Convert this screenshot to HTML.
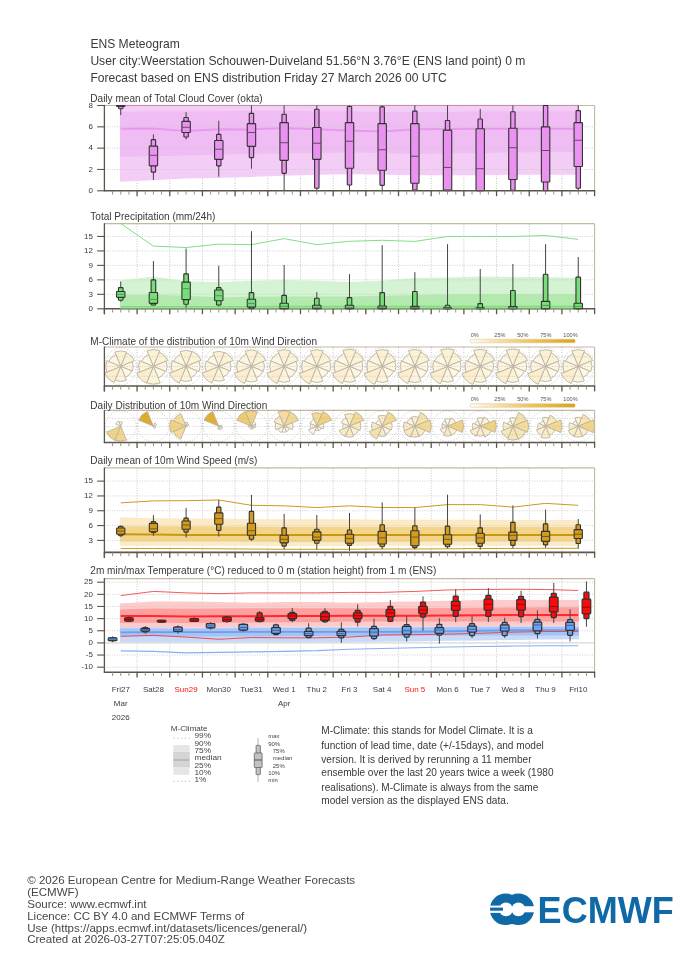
<!DOCTYPE html>
<html><head><meta charset="utf-8"><style>
html,body{margin:0;padding:0;background:#fff;}
body{width:700px;height:966px;overflow:hidden;position:relative;font-family:"Liberation Sans",sans-serif;}
svg{position:absolute;left:0;top:0;will-change:transform;}
.mc,.foot{will-change:transform;}
svg text{font-family:"Liberation Sans",sans-serif;}
.mc{position:absolute;left:321px;top:724px;width:240px;font-size:10px;line-height:14.12px;color:#3a3a3a;}
.foot{position:absolute;left:27.2px;top:875px;font-size:11.56px;line-height:11.85px;color:#474747;}
</style></head><body>
<svg width="700" height="966" viewBox="0 0 700 966">
<line x1="137.08" y1="105.50" x2="137.08" y2="190.80" stroke="#c6c6c6" stroke-width="1" stroke-dasharray="1,1.5"/>
<line x1="169.76" y1="105.50" x2="169.76" y2="190.80" stroke="#c6c6c6" stroke-width="1" stroke-dasharray="1,1.5"/>
<line x1="202.44" y1="105.50" x2="202.44" y2="190.80" stroke="#c6c6c6" stroke-width="1" stroke-dasharray="1,1.5"/>
<line x1="235.12" y1="105.50" x2="235.12" y2="190.80" stroke="#c6c6c6" stroke-width="1" stroke-dasharray="1,1.5"/>
<line x1="267.80" y1="105.50" x2="267.80" y2="190.80" stroke="#c6c6c6" stroke-width="1" stroke-dasharray="1,1.5"/>
<line x1="300.48" y1="105.50" x2="300.48" y2="190.80" stroke="#c6c6c6" stroke-width="1" stroke-dasharray="1,1.5"/>
<line x1="333.16" y1="105.50" x2="333.16" y2="190.80" stroke="#c6c6c6" stroke-width="1" stroke-dasharray="1,1.5"/>
<line x1="365.84" y1="105.50" x2="365.84" y2="190.80" stroke="#c6c6c6" stroke-width="1" stroke-dasharray="1,1.5"/>
<line x1="398.52" y1="105.50" x2="398.52" y2="190.80" stroke="#c6c6c6" stroke-width="1" stroke-dasharray="1,1.5"/>
<line x1="431.20" y1="105.50" x2="431.20" y2="190.80" stroke="#c6c6c6" stroke-width="1" stroke-dasharray="1,1.5"/>
<line x1="463.88" y1="105.50" x2="463.88" y2="190.80" stroke="#c6c6c6" stroke-width="1" stroke-dasharray="1,1.5"/>
<line x1="496.56" y1="105.50" x2="496.56" y2="190.80" stroke="#c6c6c6" stroke-width="1" stroke-dasharray="1,1.5"/>
<line x1="529.24" y1="105.50" x2="529.24" y2="190.80" stroke="#c6c6c6" stroke-width="1" stroke-dasharray="1,1.5"/>
<line x1="561.92" y1="105.50" x2="561.92" y2="190.80" stroke="#c6c6c6" stroke-width="1" stroke-dasharray="1,1.5"/>
<clipPath id="c1"><rect x="104.4" y="104.8" width="490.20" height="86.00000000000001"/></clipPath>
<g clip-path="url(#c1)">
<polygon points="119.94,99.10 153.42,99.10 186.10,99.10 218.78,99.10 251.46,99.10 284.14,99.10 316.82,99.10 349.50,99.10 382.18,99.10 414.86,99.10 447.54,99.10 480.22,99.10 512.90,99.10 545.58,99.10 578.86,99.10 578.86,174.81 545.58,174.81 512.90,174.81 480.22,175.34 447.54,175.34 414.86,175.34 382.18,174.81 349.50,174.27 316.82,174.81 284.14,175.87 251.46,176.94 218.78,178.00 186.10,178.54 153.42,180.14 119.94,181.74" fill="#f4cdf7"/>
<polygon points="119.94,111.90 153.42,111.36 186.10,111.36 218.78,111.36 251.46,110.83 284.14,110.83 316.82,111.36 349.50,111.36 382.18,111.90 414.86,111.90 447.54,111.90 480.22,111.36 512.90,111.36 545.58,111.36 578.86,111.36 578.86,151.99 545.58,152.20 512.90,152.42 480.22,152.95 447.54,153.48 414.86,153.91 382.18,152.95 349.50,152.42 316.82,152.95 284.14,153.48 251.46,153.91 218.78,154.55 186.10,155.61 153.42,156.15 119.94,156.68" fill="#efbcf4"/>
<polyline points="120.74,128.74 153.42,128.42 186.10,130.88 218.78,129.17 251.46,129.49 284.14,127.89 316.82,129.17 349.50,130.56 382.18,131.62 414.86,129.17 447.54,128.96 480.22,128.74 512.90,128.74 545.58,128.74 578.26,128.74" fill="none" stroke="#e898ee" stroke-width="2" stroke-linejoin="round"/>
</g>
<line x1="104.4" y1="169.48" x2="594.60" y2="169.48" stroke="#c6c6c6" stroke-width="1" stroke-dasharray="1,1.5" opacity="0.85"/>
<line x1="104.4" y1="148.15" x2="594.60" y2="148.15" stroke="#c6c6c6" stroke-width="1" stroke-dasharray="1,1.5" opacity="0.85"/>
<line x1="104.4" y1="126.83" x2="594.60" y2="126.83" stroke="#c6c6c6" stroke-width="1" stroke-dasharray="1,1.5" opacity="0.85"/>
<line x1="120.74" y1="105.50" x2="120.74" y2="115.10" stroke="#444" stroke-width="1"/>
<rect x="118.54" y="105.50" width="4.4" height="3.20" fill="#ea92f0" stroke="#333" stroke-width="1.1" rx="0.6"/>
<rect x="116.54" y="105.50" width="8.4" height="1.07" fill="#ea92f0" stroke="#333" stroke-width="1.1" rx="0.6"/>
<line x1="116.54" y1="105.50" x2="124.94" y2="105.50" stroke="#6e4470" stroke-width="1"/>
<line x1="153.42" y1="134.40" x2="153.42" y2="179.92" stroke="#444" stroke-width="1"/>
<rect x="151.22" y="139.62" width="4.4" height="32.52" fill="#ea92f0" stroke="#333" stroke-width="1.1" rx="0.6"/>
<rect x="149.22" y="146.12" width="8.4" height="19.73" fill="#ea92f0" stroke="#333" stroke-width="1.1" rx="0.6"/>
<line x1="149.22" y1="155.29" x2="157.62" y2="155.29" stroke="#6e4470" stroke-width="1"/>
<line x1="186.10" y1="112.11" x2="186.10" y2="139.41" stroke="#444" stroke-width="1"/>
<rect x="183.90" y="117.55" width="4.4" height="19.51" fill="#ea92f0" stroke="#333" stroke-width="1.1" rx="0.6"/>
<rect x="181.90" y="121.39" width="8.4" height="11.09" fill="#ea92f0" stroke="#333" stroke-width="1.1" rx="0.6"/>
<line x1="181.90" y1="127.25" x2="190.30" y2="127.25" stroke="#6e4470" stroke-width="1"/>
<line x1="218.78" y1="120.75" x2="218.78" y2="176.73" stroke="#444" stroke-width="1"/>
<rect x="216.58" y="134.40" width="4.4" height="31.45" fill="#ea92f0" stroke="#333" stroke-width="1.1" rx="0.6"/>
<rect x="214.58" y="140.47" width="8.4" height="18.87" fill="#ea92f0" stroke="#333" stroke-width="1.1" rx="0.6"/>
<line x1="214.58" y1="149.22" x2="222.98" y2="149.22" stroke="#6e4470" stroke-width="1"/>
<line x1="251.46" y1="105.50" x2="251.46" y2="168.73" stroke="#444" stroke-width="1"/>
<rect x="249.26" y="113.39" width="4.4" height="44.25" fill="#ea92f0" stroke="#333" stroke-width="1.1" rx="0.6"/>
<rect x="247.26" y="123.63" width="8.4" height="22.71" fill="#ea92f0" stroke="#333" stroke-width="1.1" rx="0.6"/>
<line x1="247.26" y1="132.48" x2="255.66" y2="132.48" stroke="#6e4470" stroke-width="1"/>
<line x1="284.14" y1="105.50" x2="284.14" y2="190.80" stroke="#444" stroke-width="1"/>
<rect x="281.94" y="114.24" width="4.4" height="59.18" fill="#ea92f0" stroke="#333" stroke-width="1.1" rx="0.6"/>
<rect x="279.94" y="122.67" width="8.4" height="37.75" fill="#ea92f0" stroke="#333" stroke-width="1.1" rx="0.6"/>
<line x1="279.94" y1="142.71" x2="288.34" y2="142.71" stroke="#6e4470" stroke-width="1"/>
<line x1="316.82" y1="105.50" x2="316.82" y2="190.80" stroke="#444" stroke-width="1"/>
<rect x="314.62" y="109.23" width="4.4" height="79.01" fill="#ea92f0" stroke="#333" stroke-width="1.1" rx="0.6"/>
<rect x="312.62" y="127.46" width="8.4" height="31.88" fill="#ea92f0" stroke="#333" stroke-width="1.1" rx="0.6"/>
<line x1="312.62" y1="143.25" x2="321.02" y2="143.25" stroke="#6e4470" stroke-width="1"/>
<line x1="349.50" y1="105.50" x2="349.50" y2="190.80" stroke="#444" stroke-width="1"/>
<rect x="347.30" y="106.46" width="4.4" height="78.58" fill="#ea92f0" stroke="#333" stroke-width="1.1" rx="0.6"/>
<rect x="345.30" y="122.67" width="8.4" height="45.64" fill="#ea92f0" stroke="#333" stroke-width="1.1" rx="0.6"/>
<line x1="345.30" y1="141.22" x2="353.70" y2="141.22" stroke="#6e4470" stroke-width="1"/>
<line x1="382.18" y1="105.50" x2="382.18" y2="190.80" stroke="#444" stroke-width="1"/>
<rect x="379.98" y="106.89" width="4.4" height="78.48" fill="#ea92f0" stroke="#333" stroke-width="1.1" rx="0.6"/>
<rect x="377.98" y="123.63" width="8.4" height="46.60" fill="#ea92f0" stroke="#333" stroke-width="1.1" rx="0.6"/>
<line x1="377.98" y1="149.75" x2="386.38" y2="149.75" stroke="#6e4470" stroke-width="1"/>
<line x1="414.86" y1="105.50" x2="414.86" y2="190.80" stroke="#444" stroke-width="1"/>
<rect x="412.66" y="111.15" width="4.4" height="78.80" fill="#ea92f0" stroke="#333" stroke-width="1.1" rx="0.6"/>
<rect x="410.66" y="123.63" width="8.4" height="59.60" fill="#ea92f0" stroke="#333" stroke-width="1.1" rx="0.6"/>
<line x1="410.66" y1="156.25" x2="419.06" y2="156.25" stroke="#6e4470" stroke-width="1"/>
<line x1="447.54" y1="105.50" x2="447.54" y2="190.80" stroke="#444" stroke-width="1"/>
<rect x="445.34" y="120.43" width="4.4" height="70.37" fill="#ea92f0" stroke="#333" stroke-width="1.1" rx="0.6"/>
<rect x="443.34" y="130.13" width="8.4" height="59.92" fill="#ea92f0" stroke="#333" stroke-width="1.1" rx="0.6"/>
<line x1="443.34" y1="167.45" x2="451.74" y2="167.45" stroke="#6e4470" stroke-width="1"/>
<line x1="480.22" y1="108.91" x2="480.22" y2="190.80" stroke="#444" stroke-width="1"/>
<rect x="478.02" y="118.93" width="4.4" height="71.87" fill="#ea92f0" stroke="#333" stroke-width="1.1" rx="0.6"/>
<rect x="476.02" y="128.74" width="8.4" height="62.06" fill="#ea92f0" stroke="#333" stroke-width="1.1" rx="0.6"/>
<line x1="476.02" y1="168.73" x2="484.42" y2="168.73" stroke="#6e4470" stroke-width="1"/>
<line x1="512.90" y1="105.50" x2="512.90" y2="190.80" stroke="#444" stroke-width="1"/>
<rect x="510.70" y="111.68" width="4.4" height="78.58" fill="#ea92f0" stroke="#333" stroke-width="1.1" rx="0.6"/>
<rect x="508.70" y="128.21" width="8.4" height="51.29" fill="#ea92f0" stroke="#333" stroke-width="1.1" rx="0.6"/>
<line x1="508.70" y1="147.72" x2="517.10" y2="147.72" stroke="#6e4470" stroke-width="1"/>
<line x1="545.58" y1="105.50" x2="545.58" y2="190.80" stroke="#444" stroke-width="1"/>
<rect x="543.38" y="105.50" width="4.4" height="85.30" fill="#ea92f0" stroke="#333" stroke-width="1.1" rx="0.6"/>
<rect x="541.38" y="126.83" width="8.4" height="55.23" fill="#ea92f0" stroke="#333" stroke-width="1.1" rx="0.6"/>
<line x1="541.38" y1="150.50" x2="549.78" y2="150.50" stroke="#6e4470" stroke-width="1"/>
<line x1="578.26" y1="105.50" x2="578.26" y2="190.80" stroke="#444" stroke-width="1"/>
<rect x="576.06" y="110.62" width="4.4" height="77.62" fill="#ea92f0" stroke="#333" stroke-width="1.1" rx="0.6"/>
<rect x="574.06" y="122.67" width="8.4" height="43.82" fill="#ea92f0" stroke="#333" stroke-width="1.1" rx="0.6"/>
<line x1="574.06" y1="140.26" x2="582.46" y2="140.26" stroke="#6e4470" stroke-width="1"/>
<line x1="104.4" y1="105.50" x2="594.60" y2="105.50" stroke="#c4b8a4" stroke-width="1.2" style="mix-blend-mode:multiply"/>
<line x1="594.60" y1="105.50" x2="594.60" y2="190.80" stroke="#c2b7a2" stroke-width="1.1"/>
<line x1="104.4" y1="105.50" x2="104.4" y2="190.80" stroke="#5b554a" stroke-width="1.3" stroke-linecap="round"/>
<line x1="103.80000000000001" y1="190.80" x2="595.20" y2="190.80" stroke="#5b554a" stroke-width="1.6"/>
<line x1="112.57" y1="190.80" x2="112.57" y2="194.50" stroke="#8c867b" stroke-width="0.9"/>
<line x1="120.74" y1="190.80" x2="120.74" y2="194.50" stroke="#8c867b" stroke-width="0.9"/>
<line x1="128.91" y1="190.80" x2="128.91" y2="194.50" stroke="#8c867b" stroke-width="0.9"/>
<line x1="137.08" y1="190.80" x2="137.08" y2="196.20" stroke="#5b554a" stroke-width="1.3"/>
<line x1="145.25" y1="190.80" x2="145.25" y2="194.50" stroke="#8c867b" stroke-width="0.9"/>
<line x1="153.42" y1="190.80" x2="153.42" y2="194.50" stroke="#8c867b" stroke-width="0.9"/>
<line x1="161.59" y1="190.80" x2="161.59" y2="194.50" stroke="#8c867b" stroke-width="0.9"/>
<line x1="169.76" y1="190.80" x2="169.76" y2="196.20" stroke="#5b554a" stroke-width="1.3"/>
<line x1="177.93" y1="190.80" x2="177.93" y2="194.50" stroke="#8c867b" stroke-width="0.9"/>
<line x1="186.10" y1="190.80" x2="186.10" y2="194.50" stroke="#8c867b" stroke-width="0.9"/>
<line x1="194.27" y1="190.80" x2="194.27" y2="194.50" stroke="#8c867b" stroke-width="0.9"/>
<line x1="202.44" y1="190.80" x2="202.44" y2="196.20" stroke="#5b554a" stroke-width="1.3"/>
<line x1="210.61" y1="190.80" x2="210.61" y2="194.50" stroke="#8c867b" stroke-width="0.9"/>
<line x1="218.78" y1="190.80" x2="218.78" y2="194.50" stroke="#8c867b" stroke-width="0.9"/>
<line x1="226.95" y1="190.80" x2="226.95" y2="194.50" stroke="#8c867b" stroke-width="0.9"/>
<line x1="235.12" y1="190.80" x2="235.12" y2="196.20" stroke="#5b554a" stroke-width="1.3"/>
<line x1="243.29" y1="190.80" x2="243.29" y2="194.50" stroke="#8c867b" stroke-width="0.9"/>
<line x1="251.46" y1="190.80" x2="251.46" y2="194.50" stroke="#8c867b" stroke-width="0.9"/>
<line x1="259.63" y1="190.80" x2="259.63" y2="194.50" stroke="#8c867b" stroke-width="0.9"/>
<line x1="267.80" y1="190.80" x2="267.80" y2="196.20" stroke="#5b554a" stroke-width="1.3"/>
<line x1="275.97" y1="190.80" x2="275.97" y2="194.50" stroke="#8c867b" stroke-width="0.9"/>
<line x1="284.14" y1="190.80" x2="284.14" y2="194.50" stroke="#8c867b" stroke-width="0.9"/>
<line x1="292.31" y1="190.80" x2="292.31" y2="194.50" stroke="#8c867b" stroke-width="0.9"/>
<line x1="300.48" y1="190.80" x2="300.48" y2="196.20" stroke="#5b554a" stroke-width="1.3"/>
<line x1="308.65" y1="190.80" x2="308.65" y2="194.50" stroke="#8c867b" stroke-width="0.9"/>
<line x1="316.82" y1="190.80" x2="316.82" y2="194.50" stroke="#8c867b" stroke-width="0.9"/>
<line x1="324.99" y1="190.80" x2="324.99" y2="194.50" stroke="#8c867b" stroke-width="0.9"/>
<line x1="333.16" y1="190.80" x2="333.16" y2="196.20" stroke="#5b554a" stroke-width="1.3"/>
<line x1="341.33" y1="190.80" x2="341.33" y2="194.50" stroke="#8c867b" stroke-width="0.9"/>
<line x1="349.50" y1="190.80" x2="349.50" y2="194.50" stroke="#8c867b" stroke-width="0.9"/>
<line x1="357.67" y1="190.80" x2="357.67" y2="194.50" stroke="#8c867b" stroke-width="0.9"/>
<line x1="365.84" y1="190.80" x2="365.84" y2="196.20" stroke="#5b554a" stroke-width="1.3"/>
<line x1="374.01" y1="190.80" x2="374.01" y2="194.50" stroke="#8c867b" stroke-width="0.9"/>
<line x1="382.18" y1="190.80" x2="382.18" y2="194.50" stroke="#8c867b" stroke-width="0.9"/>
<line x1="390.35" y1="190.80" x2="390.35" y2="194.50" stroke="#8c867b" stroke-width="0.9"/>
<line x1="398.52" y1="190.80" x2="398.52" y2="196.20" stroke="#5b554a" stroke-width="1.3"/>
<line x1="406.69" y1="190.80" x2="406.69" y2="194.50" stroke="#8c867b" stroke-width="0.9"/>
<line x1="414.86" y1="190.80" x2="414.86" y2="194.50" stroke="#8c867b" stroke-width="0.9"/>
<line x1="423.03" y1="190.80" x2="423.03" y2="194.50" stroke="#8c867b" stroke-width="0.9"/>
<line x1="431.20" y1="190.80" x2="431.20" y2="196.20" stroke="#5b554a" stroke-width="1.3"/>
<line x1="439.37" y1="190.80" x2="439.37" y2="194.50" stroke="#8c867b" stroke-width="0.9"/>
<line x1="447.54" y1="190.80" x2="447.54" y2="194.50" stroke="#8c867b" stroke-width="0.9"/>
<line x1="455.71" y1="190.80" x2="455.71" y2="194.50" stroke="#8c867b" stroke-width="0.9"/>
<line x1="463.88" y1="190.80" x2="463.88" y2="196.20" stroke="#5b554a" stroke-width="1.3"/>
<line x1="472.05" y1="190.80" x2="472.05" y2="194.50" stroke="#8c867b" stroke-width="0.9"/>
<line x1="480.22" y1="190.80" x2="480.22" y2="194.50" stroke="#8c867b" stroke-width="0.9"/>
<line x1="488.39" y1="190.80" x2="488.39" y2="194.50" stroke="#8c867b" stroke-width="0.9"/>
<line x1="496.56" y1="190.80" x2="496.56" y2="196.20" stroke="#5b554a" stroke-width="1.3"/>
<line x1="504.73" y1="190.80" x2="504.73" y2="194.50" stroke="#8c867b" stroke-width="0.9"/>
<line x1="512.90" y1="190.80" x2="512.90" y2="194.50" stroke="#8c867b" stroke-width="0.9"/>
<line x1="521.07" y1="190.80" x2="521.07" y2="194.50" stroke="#8c867b" stroke-width="0.9"/>
<line x1="529.24" y1="190.80" x2="529.24" y2="196.20" stroke="#5b554a" stroke-width="1.3"/>
<line x1="537.41" y1="190.80" x2="537.41" y2="194.50" stroke="#8c867b" stroke-width="0.9"/>
<line x1="545.58" y1="190.80" x2="545.58" y2="194.50" stroke="#8c867b" stroke-width="0.9"/>
<line x1="553.75" y1="190.80" x2="553.75" y2="194.50" stroke="#8c867b" stroke-width="0.9"/>
<line x1="561.92" y1="190.80" x2="561.92" y2="196.20" stroke="#5b554a" stroke-width="1.3"/>
<line x1="570.09" y1="190.80" x2="570.09" y2="194.50" stroke="#8c867b" stroke-width="0.9"/>
<line x1="578.26" y1="190.80" x2="578.26" y2="194.50" stroke="#8c867b" stroke-width="0.9"/>
<line x1="586.43" y1="190.80" x2="586.43" y2="194.50" stroke="#8c867b" stroke-width="0.9"/>
<line x1="594.60" y1="190.80" x2="594.60" y2="196.20" stroke="#5b554a" stroke-width="1.3"/>
<line x1="97.2" y1="190.80" x2="104.4" y2="190.80" stroke="#5b554a" stroke-width="1.1"/>
<text x="92.9" y="193.60" font-size="8" fill="#3a3a3a" text-anchor="end" transform="translate(0,190.80) scale(1,0.82) translate(0,-190.80)">0</text>
<line x1="97.2" y1="169.48" x2="104.4" y2="169.48" stroke="#5b554a" stroke-width="1.1"/>
<text x="92.9" y="172.28" font-size="8" fill="#3a3a3a" text-anchor="end" transform="translate(0,169.48) scale(1,0.82) translate(0,-169.48)">2</text>
<line x1="97.2" y1="148.15" x2="104.4" y2="148.15" stroke="#5b554a" stroke-width="1.1"/>
<text x="92.9" y="150.95" font-size="8" fill="#3a3a3a" text-anchor="end" transform="translate(0,148.15) scale(1,0.82) translate(0,-148.15)">4</text>
<line x1="97.2" y1="126.83" x2="104.4" y2="126.83" stroke="#5b554a" stroke-width="1.1"/>
<text x="92.9" y="129.62" font-size="8" fill="#3a3a3a" text-anchor="end" transform="translate(0,126.83) scale(1,0.82) translate(0,-126.83)">6</text>
<line x1="97.2" y1="105.50" x2="104.4" y2="105.50" stroke="#5b554a" stroke-width="1.1"/>
<text x="92.9" y="108.30" font-size="8" fill="#3a3a3a" text-anchor="end" transform="translate(0,105.50) scale(1,0.82) translate(0,-105.50)">8</text>
<text x="90.30" y="102.30" font-size="10.05" fill="#3a3a3a" text-anchor="start" >Daily mean of Total Cloud Cover (okta)</text>
<line x1="137.08" y1="223.70" x2="137.08" y2="308.80" stroke="#c6c6c6" stroke-width="1" stroke-dasharray="1,1.5"/>
<line x1="169.76" y1="223.70" x2="169.76" y2="308.80" stroke="#c6c6c6" stroke-width="1" stroke-dasharray="1,1.5"/>
<line x1="202.44" y1="223.70" x2="202.44" y2="308.80" stroke="#c6c6c6" stroke-width="1" stroke-dasharray="1,1.5"/>
<line x1="235.12" y1="223.70" x2="235.12" y2="308.80" stroke="#c6c6c6" stroke-width="1" stroke-dasharray="1,1.5"/>
<line x1="267.80" y1="223.70" x2="267.80" y2="308.80" stroke="#c6c6c6" stroke-width="1" stroke-dasharray="1,1.5"/>
<line x1="300.48" y1="223.70" x2="300.48" y2="308.80" stroke="#c6c6c6" stroke-width="1" stroke-dasharray="1,1.5"/>
<line x1="333.16" y1="223.70" x2="333.16" y2="308.80" stroke="#c6c6c6" stroke-width="1" stroke-dasharray="1,1.5"/>
<line x1="365.84" y1="223.70" x2="365.84" y2="308.80" stroke="#c6c6c6" stroke-width="1" stroke-dasharray="1,1.5"/>
<line x1="398.52" y1="223.70" x2="398.52" y2="308.80" stroke="#c6c6c6" stroke-width="1" stroke-dasharray="1,1.5"/>
<line x1="431.20" y1="223.70" x2="431.20" y2="308.80" stroke="#c6c6c6" stroke-width="1" stroke-dasharray="1,1.5"/>
<line x1="463.88" y1="223.70" x2="463.88" y2="308.80" stroke="#c6c6c6" stroke-width="1" stroke-dasharray="1,1.5"/>
<line x1="496.56" y1="223.70" x2="496.56" y2="308.80" stroke="#c6c6c6" stroke-width="1" stroke-dasharray="1,1.5"/>
<line x1="529.24" y1="223.70" x2="529.24" y2="308.80" stroke="#c6c6c6" stroke-width="1" stroke-dasharray="1,1.5"/>
<line x1="561.92" y1="223.70" x2="561.92" y2="308.80" stroke="#c6c6c6" stroke-width="1" stroke-dasharray="1,1.5"/>
<clipPath id="c2"><rect x="104.4" y="223.7" width="490.20" height="85.10000000000002"/></clipPath>
<g clip-path="url(#c2)">
<polygon points="119.94,280.59 153.42,276.49 186.10,281.31 218.78,282.27 251.46,280.83 284.14,280.01 316.82,280.83 349.50,282.03 382.18,280.83 414.86,277.93 447.54,277.45 480.22,276.49 512.90,276.97 545.58,277.11 578.86,277.93 578.86,308.80 545.58,308.80 512.90,308.80 480.22,308.80 447.54,308.80 414.86,308.80 382.18,308.80 349.50,308.80 316.82,308.80 284.14,308.80 251.46,308.80 218.78,308.80 186.10,308.80 153.42,308.80 119.94,308.80" fill="#d4f3d2"/>
<polygon points="119.94,295.30 153.42,294.81 186.10,295.78 218.78,297.22 251.46,296.74 284.14,296.40 316.82,296.40 349.50,296.40 382.18,295.78 414.86,295.30 447.54,294.33 480.22,294.33 512.90,294.33 545.58,294.33 578.86,294.33 578.86,308.80 545.58,308.80 512.90,308.80 480.22,308.80 447.54,308.80 414.86,308.80 382.18,308.80 349.50,308.80 316.82,308.80 284.14,308.80 251.46,308.80 218.78,308.80 186.10,308.80 153.42,308.80 119.94,308.80" fill="#b2eaae"/>
</g>
<line x1="104.4" y1="294.33" x2="594.60" y2="294.33" stroke="#c6c6c6" stroke-width="1" stroke-dasharray="1,1.5" opacity="0.85"/>
<line x1="104.4" y1="279.86" x2="594.60" y2="279.86" stroke="#c6c6c6" stroke-width="1" stroke-dasharray="1,1.5" opacity="0.85"/>
<line x1="104.4" y1="265.39" x2="594.60" y2="265.39" stroke="#c6c6c6" stroke-width="1" stroke-dasharray="1,1.5" opacity="0.85"/>
<line x1="104.4" y1="250.92" x2="594.60" y2="250.92" stroke="#c6c6c6" stroke-width="1" stroke-dasharray="1,1.5" opacity="0.85"/>
<line x1="104.4" y1="236.46" x2="594.60" y2="236.46" stroke="#c6c6c6" stroke-width="1" stroke-dasharray="1,1.5" opacity="0.85"/>
<g clip-path="url(#c2)">
<polyline points="120.74,306.77 153.42,306.77 186.10,306.77 218.78,306.77 251.46,306.77 284.14,306.63 316.82,306.63 349.50,306.63 382.18,306.63 414.86,306.63 447.54,306.63 480.22,306.63 512.90,306.63 545.58,306.63 578.26,306.63" fill="none" stroke="#7ede7b" stroke-width="1.6" stroke-linejoin="round"/>
<polyline points="120.74,223.53 153.42,246.10 186.10,247.55 218.78,244.17 251.46,244.65 284.14,238.63 316.82,244.65 349.50,241.28 382.18,240.31 414.86,241.42 447.54,236.46 480.22,236.46 512.90,236.46 545.58,235.49 578.26,239.35" fill="none" stroke="#86dc84" stroke-width="1.0" stroke-linejoin="round"/>
</g>
<line x1="104.4" y1="223.70" x2="594.60" y2="223.70" stroke="#c4b8a4" stroke-width="1.2" style="mix-blend-mode:multiply"/>
<line x1="594.60" y1="223.70" x2="594.60" y2="308.80" stroke="#c2b7a2" stroke-width="1.1"/>
<line x1="104.4" y1="223.70" x2="104.4" y2="313.80" stroke="#5b554a" stroke-width="1.3" stroke-linecap="round"/>
<line x1="103.80000000000001" y1="308.80" x2="595.20" y2="308.80" stroke="#5b554a" stroke-width="1.6"/>
<line x1="104.40" y1="308.80" x2="104.40" y2="314.20" stroke="#5b554a" stroke-width="1.3"/>
<line x1="112.57" y1="308.80" x2="112.57" y2="312.50" stroke="#8c867b" stroke-width="0.9"/>
<line x1="120.74" y1="308.80" x2="120.74" y2="312.50" stroke="#8c867b" stroke-width="0.9"/>
<line x1="128.91" y1="308.80" x2="128.91" y2="312.50" stroke="#8c867b" stroke-width="0.9"/>
<line x1="137.08" y1="308.80" x2="137.08" y2="314.20" stroke="#5b554a" stroke-width="1.3"/>
<line x1="145.25" y1="308.80" x2="145.25" y2="312.50" stroke="#8c867b" stroke-width="0.9"/>
<line x1="153.42" y1="308.80" x2="153.42" y2="312.50" stroke="#8c867b" stroke-width="0.9"/>
<line x1="161.59" y1="308.80" x2="161.59" y2="312.50" stroke="#8c867b" stroke-width="0.9"/>
<line x1="169.76" y1="308.80" x2="169.76" y2="314.20" stroke="#5b554a" stroke-width="1.3"/>
<line x1="177.93" y1="308.80" x2="177.93" y2="312.50" stroke="#8c867b" stroke-width="0.9"/>
<line x1="186.10" y1="308.80" x2="186.10" y2="312.50" stroke="#8c867b" stroke-width="0.9"/>
<line x1="194.27" y1="308.80" x2="194.27" y2="312.50" stroke="#8c867b" stroke-width="0.9"/>
<line x1="202.44" y1="308.80" x2="202.44" y2="314.20" stroke="#5b554a" stroke-width="1.3"/>
<line x1="210.61" y1="308.80" x2="210.61" y2="312.50" stroke="#8c867b" stroke-width="0.9"/>
<line x1="218.78" y1="308.80" x2="218.78" y2="312.50" stroke="#8c867b" stroke-width="0.9"/>
<line x1="226.95" y1="308.80" x2="226.95" y2="312.50" stroke="#8c867b" stroke-width="0.9"/>
<line x1="235.12" y1="308.80" x2="235.12" y2="314.20" stroke="#5b554a" stroke-width="1.3"/>
<line x1="243.29" y1="308.80" x2="243.29" y2="312.50" stroke="#8c867b" stroke-width="0.9"/>
<line x1="251.46" y1="308.80" x2="251.46" y2="312.50" stroke="#8c867b" stroke-width="0.9"/>
<line x1="259.63" y1="308.80" x2="259.63" y2="312.50" stroke="#8c867b" stroke-width="0.9"/>
<line x1="267.80" y1="308.80" x2="267.80" y2="314.20" stroke="#5b554a" stroke-width="1.3"/>
<line x1="275.97" y1="308.80" x2="275.97" y2="312.50" stroke="#8c867b" stroke-width="0.9"/>
<line x1="284.14" y1="308.80" x2="284.14" y2="312.50" stroke="#8c867b" stroke-width="0.9"/>
<line x1="292.31" y1="308.80" x2="292.31" y2="312.50" stroke="#8c867b" stroke-width="0.9"/>
<line x1="300.48" y1="308.80" x2="300.48" y2="314.20" stroke="#5b554a" stroke-width="1.3"/>
<line x1="308.65" y1="308.80" x2="308.65" y2="312.50" stroke="#8c867b" stroke-width="0.9"/>
<line x1="316.82" y1="308.80" x2="316.82" y2="312.50" stroke="#8c867b" stroke-width="0.9"/>
<line x1="324.99" y1="308.80" x2="324.99" y2="312.50" stroke="#8c867b" stroke-width="0.9"/>
<line x1="333.16" y1="308.80" x2="333.16" y2="314.20" stroke="#5b554a" stroke-width="1.3"/>
<line x1="341.33" y1="308.80" x2="341.33" y2="312.50" stroke="#8c867b" stroke-width="0.9"/>
<line x1="349.50" y1="308.80" x2="349.50" y2="312.50" stroke="#8c867b" stroke-width="0.9"/>
<line x1="357.67" y1="308.80" x2="357.67" y2="312.50" stroke="#8c867b" stroke-width="0.9"/>
<line x1="365.84" y1="308.80" x2="365.84" y2="314.20" stroke="#5b554a" stroke-width="1.3"/>
<line x1="374.01" y1="308.80" x2="374.01" y2="312.50" stroke="#8c867b" stroke-width="0.9"/>
<line x1="382.18" y1="308.80" x2="382.18" y2="312.50" stroke="#8c867b" stroke-width="0.9"/>
<line x1="390.35" y1="308.80" x2="390.35" y2="312.50" stroke="#8c867b" stroke-width="0.9"/>
<line x1="398.52" y1="308.80" x2="398.52" y2="314.20" stroke="#5b554a" stroke-width="1.3"/>
<line x1="406.69" y1="308.80" x2="406.69" y2="312.50" stroke="#8c867b" stroke-width="0.9"/>
<line x1="414.86" y1="308.80" x2="414.86" y2="312.50" stroke="#8c867b" stroke-width="0.9"/>
<line x1="423.03" y1="308.80" x2="423.03" y2="312.50" stroke="#8c867b" stroke-width="0.9"/>
<line x1="431.20" y1="308.80" x2="431.20" y2="314.20" stroke="#5b554a" stroke-width="1.3"/>
<line x1="439.37" y1="308.80" x2="439.37" y2="312.50" stroke="#8c867b" stroke-width="0.9"/>
<line x1="447.54" y1="308.80" x2="447.54" y2="312.50" stroke="#8c867b" stroke-width="0.9"/>
<line x1="455.71" y1="308.80" x2="455.71" y2="312.50" stroke="#8c867b" stroke-width="0.9"/>
<line x1="463.88" y1="308.80" x2="463.88" y2="314.20" stroke="#5b554a" stroke-width="1.3"/>
<line x1="472.05" y1="308.80" x2="472.05" y2="312.50" stroke="#8c867b" stroke-width="0.9"/>
<line x1="480.22" y1="308.80" x2="480.22" y2="312.50" stroke="#8c867b" stroke-width="0.9"/>
<line x1="488.39" y1="308.80" x2="488.39" y2="312.50" stroke="#8c867b" stroke-width="0.9"/>
<line x1="496.56" y1="308.80" x2="496.56" y2="314.20" stroke="#5b554a" stroke-width="1.3"/>
<line x1="504.73" y1="308.80" x2="504.73" y2="312.50" stroke="#8c867b" stroke-width="0.9"/>
<line x1="512.90" y1="308.80" x2="512.90" y2="312.50" stroke="#8c867b" stroke-width="0.9"/>
<line x1="521.07" y1="308.80" x2="521.07" y2="312.50" stroke="#8c867b" stroke-width="0.9"/>
<line x1="529.24" y1="308.80" x2="529.24" y2="314.20" stroke="#5b554a" stroke-width="1.3"/>
<line x1="537.41" y1="308.80" x2="537.41" y2="312.50" stroke="#8c867b" stroke-width="0.9"/>
<line x1="545.58" y1="308.80" x2="545.58" y2="312.50" stroke="#8c867b" stroke-width="0.9"/>
<line x1="553.75" y1="308.80" x2="553.75" y2="312.50" stroke="#8c867b" stroke-width="0.9"/>
<line x1="561.92" y1="308.80" x2="561.92" y2="314.20" stroke="#5b554a" stroke-width="1.3"/>
<line x1="570.09" y1="308.80" x2="570.09" y2="312.50" stroke="#8c867b" stroke-width="0.9"/>
<line x1="578.26" y1="308.80" x2="578.26" y2="312.50" stroke="#8c867b" stroke-width="0.9"/>
<line x1="586.43" y1="308.80" x2="586.43" y2="312.50" stroke="#8c867b" stroke-width="0.9"/>
<line x1="594.60" y1="308.80" x2="594.60" y2="314.20" stroke="#5b554a" stroke-width="1.3"/>
<line x1="97.2" y1="308.80" x2="104.4" y2="308.80" stroke="#5b554a" stroke-width="1.1"/>
<text x="92.9" y="311.60" font-size="8" fill="#3a3a3a" text-anchor="end" transform="translate(0,308.80) scale(1,0.82) translate(0,-308.80)">0</text>
<line x1="97.2" y1="294.33" x2="104.4" y2="294.33" stroke="#5b554a" stroke-width="1.1"/>
<text x="92.9" y="297.13" font-size="8" fill="#3a3a3a" text-anchor="end" transform="translate(0,294.33) scale(1,0.82) translate(0,-294.33)">3</text>
<line x1="97.2" y1="279.86" x2="104.4" y2="279.86" stroke="#5b554a" stroke-width="1.1"/>
<text x="92.9" y="282.66" font-size="8" fill="#3a3a3a" text-anchor="end" transform="translate(0,279.86) scale(1,0.82) translate(0,-279.86)">6</text>
<line x1="97.2" y1="265.39" x2="104.4" y2="265.39" stroke="#5b554a" stroke-width="1.1"/>
<text x="92.9" y="268.19" font-size="8" fill="#3a3a3a" text-anchor="end" transform="translate(0,265.39) scale(1,0.82) translate(0,-265.39)">9</text>
<line x1="97.2" y1="250.92" x2="104.4" y2="250.92" stroke="#5b554a" stroke-width="1.1"/>
<text x="92.9" y="253.72" font-size="8" fill="#3a3a3a" text-anchor="end" transform="translate(0,250.92) scale(1,0.82) translate(0,-250.92)">12</text>
<line x1="97.2" y1="236.46" x2="104.4" y2="236.46" stroke="#5b554a" stroke-width="1.1"/>
<text x="92.9" y="239.26" font-size="8" fill="#3a3a3a" text-anchor="end" transform="translate(0,236.46) scale(1,0.82) translate(0,-236.46)">15</text>
<rect x="119.94" y="307.90" width="458.92" height="0.9" fill="#8ee08a" opacity="0.75"/>
<line x1="120.74" y1="281.60" x2="120.74" y2="301.81" stroke="#444" stroke-width="1"/>
<rect x="118.44" y="287.58" width="4.6" height="12.64" fill="#77dd77" stroke="#333" stroke-width="1.1" rx="0.6"/>
<rect x="116.54" y="291.49" width="8.4" height="5.84" fill="#77dd77" stroke="#333" stroke-width="1.1" rx="0.6"/>
<line x1="116.54" y1="294.33" x2="124.94" y2="294.33" stroke="#4f9a4f" stroke-width="1"/>
<line x1="153.42" y1="261.05" x2="153.42" y2="305.62" stroke="#444" stroke-width="1"/>
<rect x="151.12" y="279.86" width="4.6" height="25.13" fill="#77dd77" stroke="#333" stroke-width="1.1" rx="0.6"/>
<rect x="149.22" y="292.50" width="8.4" height="10.90" fill="#77dd77" stroke="#333" stroke-width="1.1" rx="0.6"/>
<line x1="149.22" y1="299.40" x2="157.62" y2="299.40" stroke="#4f9a4f" stroke-width="1"/>
<line x1="186.10" y1="248.51" x2="186.10" y2="307.84" stroke="#444" stroke-width="1"/>
<rect x="183.80" y="273.88" width="4.6" height="30.38" fill="#77dd77" stroke="#333" stroke-width="1.1" rx="0.6"/>
<rect x="181.90" y="282.13" width="8.4" height="17.46" fill="#77dd77" stroke="#333" stroke-width="1.1" rx="0.6"/>
<line x1="181.90" y1="288.59" x2="190.30" y2="288.59" stroke="#4f9a4f" stroke-width="1"/>
<line x1="218.78" y1="265.68" x2="218.78" y2="306.39" stroke="#444" stroke-width="1"/>
<rect x="216.48" y="287.58" width="4.6" height="17.41" fill="#77dd77" stroke="#333" stroke-width="1.1" rx="0.6"/>
<rect x="214.58" y="289.99" width="8.4" height="10.71" fill="#77dd77" stroke="#333" stroke-width="1.1" rx="0.6"/>
<line x1="214.58" y1="295.78" x2="222.98" y2="295.78" stroke="#4f9a4f" stroke-width="1"/>
<line x1="251.46" y1="231.15" x2="251.46" y2="308.80" stroke="#444" stroke-width="1"/>
<rect x="249.16" y="292.59" width="4.6" height="16.21" fill="#77dd77" stroke="#333" stroke-width="1.1" rx="0.6"/>
<rect x="247.26" y="299.30" width="8.4" height="7.81" fill="#77dd77" stroke="#333" stroke-width="1.1" rx="0.6"/>
<line x1="247.26" y1="303.59" x2="255.66" y2="303.59" stroke="#4f9a4f" stroke-width="1"/>
<line x1="284.14" y1="265.01" x2="284.14" y2="308.80" stroke="#444" stroke-width="1"/>
<rect x="281.84" y="295.39" width="4.6" height="13.41" fill="#77dd77" stroke="#333" stroke-width="1.1" rx="0.6"/>
<rect x="279.94" y="303.30" width="8.4" height="5.50" fill="#77dd77" stroke="#333" stroke-width="1.1" rx="0.6"/>
<line x1="279.94" y1="306.39" x2="288.34" y2="306.39" stroke="#4f9a4f" stroke-width="1"/>
<line x1="316.82" y1="292.11" x2="316.82" y2="308.80" stroke="#444" stroke-width="1"/>
<rect x="314.52" y="298.29" width="4.6" height="10.51" fill="#77dd77" stroke="#333" stroke-width="1.1" rx="0.6"/>
<rect x="312.62" y="305.28" width="8.4" height="3.52" fill="#77dd77" stroke="#333" stroke-width="1.1" rx="0.6"/>
<line x1="312.62" y1="307.35" x2="321.02" y2="307.35" stroke="#4f9a4f" stroke-width="1"/>
<line x1="349.50" y1="274.07" x2="349.50" y2="308.80" stroke="#444" stroke-width="1"/>
<rect x="347.20" y="297.61" width="4.6" height="11.19" fill="#77dd77" stroke="#333" stroke-width="1.1" rx="0.6"/>
<rect x="345.30" y="305.28" width="8.4" height="3.52" fill="#77dd77" stroke="#333" stroke-width="1.1" rx="0.6"/>
<line x1="345.30" y1="307.35" x2="353.70" y2="307.35" stroke="#4f9a4f" stroke-width="1"/>
<line x1="382.18" y1="245.14" x2="382.18" y2="308.80" stroke="#444" stroke-width="1"/>
<rect x="379.88" y="292.59" width="4.6" height="16.21" fill="#77dd77" stroke="#333" stroke-width="1.1" rx="0.6"/>
<rect x="377.98" y="306.00" width="8.4" height="2.80" fill="#77dd77" stroke="#333" stroke-width="1.1" rx="0.6"/>
<line x1="377.98" y1="307.35" x2="386.38" y2="307.35" stroke="#4f9a4f" stroke-width="1"/>
<line x1="414.86" y1="272.15" x2="414.86" y2="308.80" stroke="#444" stroke-width="1"/>
<rect x="412.56" y="291.44" width="4.6" height="17.36" fill="#77dd77" stroke="#333" stroke-width="1.1" rx="0.6"/>
<rect x="410.66" y="306.39" width="8.4" height="2.41" fill="#77dd77" stroke="#333" stroke-width="1.1" rx="0.6"/>
<line x1="410.66" y1="307.35" x2="419.06" y2="307.35" stroke="#4f9a4f" stroke-width="1"/>
<line x1="447.54" y1="244.17" x2="447.54" y2="308.80" stroke="#444" stroke-width="1"/>
<rect x="445.24" y="305.28" width="4.6" height="3.52" fill="#77dd77" stroke="#333" stroke-width="1.1" rx="0.6"/>
<rect x="443.34" y="307.84" width="8.4" height="0.96" fill="#77dd77" stroke="#333" stroke-width="1.1" rx="0.6"/>
<line x1="443.34" y1="308.32" x2="451.74" y2="308.32" stroke="#4f9a4f" stroke-width="1"/>
<line x1="480.22" y1="269.01" x2="480.22" y2="308.80" stroke="#444" stroke-width="1"/>
<rect x="477.92" y="303.59" width="4.6" height="5.21" fill="#77dd77" stroke="#333" stroke-width="1.1" rx="0.6"/>
<rect x="476.02" y="307.84" width="8.4" height="0.96" fill="#77dd77" stroke="#333" stroke-width="1.1" rx="0.6"/>
<line x1="476.02" y1="308.56" x2="484.42" y2="308.56" stroke="#4f9a4f" stroke-width="1"/>
<line x1="512.90" y1="263.95" x2="512.90" y2="308.80" stroke="#444" stroke-width="1"/>
<rect x="510.60" y="290.47" width="4.6" height="18.33" fill="#77dd77" stroke="#333" stroke-width="1.1" rx="0.6"/>
<rect x="508.70" y="306.63" width="8.4" height="2.17" fill="#77dd77" stroke="#333" stroke-width="1.1" rx="0.6"/>
<line x1="508.70" y1="308.32" x2="517.10" y2="308.32" stroke="#4f9a4f" stroke-width="1"/>
<line x1="545.58" y1="244.17" x2="545.58" y2="308.80" stroke="#444" stroke-width="1"/>
<rect x="543.28" y="274.32" width="4.6" height="34.48" fill="#77dd77" stroke="#333" stroke-width="1.1" rx="0.6"/>
<rect x="541.38" y="301.42" width="8.4" height="7.38" fill="#77dd77" stroke="#333" stroke-width="1.1" rx="0.6"/>
<line x1="541.38" y1="305.42" x2="549.78" y2="305.42" stroke="#4f9a4f" stroke-width="1"/>
<line x1="578.26" y1="256.95" x2="578.26" y2="308.80" stroke="#444" stroke-width="1"/>
<rect x="575.96" y="277.11" width="4.6" height="31.69" fill="#77dd77" stroke="#333" stroke-width="1.1" rx="0.6"/>
<rect x="574.06" y="303.30" width="8.4" height="5.50" fill="#77dd77" stroke="#333" stroke-width="1.1" rx="0.6"/>
<line x1="574.06" y1="306.39" x2="582.46" y2="306.39" stroke="#4f9a4f" stroke-width="1"/>
<text x="90.30" y="219.70" font-size="10.05" fill="#3a3a3a" text-anchor="start" >Total Precipitation (mm/24h)</text>
<line x1="137.08" y1="347.00" x2="137.08" y2="386.00" stroke="#c6c6c6" stroke-width="1" stroke-dasharray="1,1.5"/>
<line x1="169.76" y1="347.00" x2="169.76" y2="386.00" stroke="#c6c6c6" stroke-width="1" stroke-dasharray="1,1.5"/>
<line x1="202.44" y1="347.00" x2="202.44" y2="386.00" stroke="#c6c6c6" stroke-width="1" stroke-dasharray="1,1.5"/>
<line x1="235.12" y1="347.00" x2="235.12" y2="386.00" stroke="#c6c6c6" stroke-width="1" stroke-dasharray="1,1.5"/>
<line x1="267.80" y1="347.00" x2="267.80" y2="386.00" stroke="#c6c6c6" stroke-width="1" stroke-dasharray="1,1.5"/>
<line x1="300.48" y1="347.00" x2="300.48" y2="386.00" stroke="#c6c6c6" stroke-width="1" stroke-dasharray="1,1.5"/>
<line x1="333.16" y1="347.00" x2="333.16" y2="386.00" stroke="#c6c6c6" stroke-width="1" stroke-dasharray="1,1.5"/>
<line x1="365.84" y1="347.00" x2="365.84" y2="386.00" stroke="#c6c6c6" stroke-width="1" stroke-dasharray="1,1.5"/>
<line x1="398.52" y1="347.00" x2="398.52" y2="386.00" stroke="#c6c6c6" stroke-width="1" stroke-dasharray="1,1.5"/>
<line x1="431.20" y1="347.00" x2="431.20" y2="386.00" stroke="#c6c6c6" stroke-width="1" stroke-dasharray="1,1.5"/>
<line x1="463.88" y1="347.00" x2="463.88" y2="386.00" stroke="#c6c6c6" stroke-width="1" stroke-dasharray="1,1.5"/>
<line x1="496.56" y1="347.00" x2="496.56" y2="386.00" stroke="#c6c6c6" stroke-width="1" stroke-dasharray="1,1.5"/>
<line x1="529.24" y1="347.00" x2="529.24" y2="386.00" stroke="#c6c6c6" stroke-width="1" stroke-dasharray="1,1.5"/>
<line x1="561.92" y1="347.00" x2="561.92" y2="386.00" stroke="#c6c6c6" stroke-width="1" stroke-dasharray="1,1.5"/>
<ellipse cx="120.74" cy="366.40" rx="15.5" ry="18.70" fill="none" stroke="#b8b8b8" stroke-width="0.8" stroke-dasharray="1,1.8"/>
<ellipse cx="153.42" cy="366.40" rx="15.5" ry="18.70" fill="none" stroke="#b8b8b8" stroke-width="0.8" stroke-dasharray="1,1.8"/>
<ellipse cx="186.10" cy="366.40" rx="15.5" ry="18.70" fill="none" stroke="#b8b8b8" stroke-width="0.8" stroke-dasharray="1,1.8"/>
<ellipse cx="218.78" cy="366.40" rx="15.5" ry="18.70" fill="none" stroke="#b8b8b8" stroke-width="0.8" stroke-dasharray="1,1.8"/>
<ellipse cx="251.46" cy="366.40" rx="15.5" ry="18.70" fill="none" stroke="#b8b8b8" stroke-width="0.8" stroke-dasharray="1,1.8"/>
<ellipse cx="284.14" cy="366.40" rx="15.5" ry="18.70" fill="none" stroke="#b8b8b8" stroke-width="0.8" stroke-dasharray="1,1.8"/>
<ellipse cx="316.82" cy="366.40" rx="15.5" ry="18.70" fill="none" stroke="#b8b8b8" stroke-width="0.8" stroke-dasharray="1,1.8"/>
<ellipse cx="349.50" cy="366.40" rx="15.5" ry="18.70" fill="none" stroke="#b8b8b8" stroke-width="0.8" stroke-dasharray="1,1.8"/>
<ellipse cx="382.18" cy="366.40" rx="15.5" ry="18.70" fill="none" stroke="#b8b8b8" stroke-width="0.8" stroke-dasharray="1,1.8"/>
<ellipse cx="414.86" cy="366.40" rx="15.5" ry="18.70" fill="none" stroke="#b8b8b8" stroke-width="0.8" stroke-dasharray="1,1.8"/>
<ellipse cx="447.54" cy="366.40" rx="15.5" ry="18.70" fill="none" stroke="#b8b8b8" stroke-width="0.8" stroke-dasharray="1,1.8"/>
<ellipse cx="480.22" cy="366.40" rx="15.5" ry="18.70" fill="none" stroke="#b8b8b8" stroke-width="0.8" stroke-dasharray="1,1.8"/>
<ellipse cx="512.90" cy="366.40" rx="15.5" ry="18.70" fill="none" stroke="#b8b8b8" stroke-width="0.8" stroke-dasharray="1,1.8"/>
<ellipse cx="545.58" cy="366.40" rx="15.5" ry="18.70" fill="none" stroke="#b8b8b8" stroke-width="0.8" stroke-dasharray="1,1.8"/>
<ellipse cx="578.26" cy="366.40" rx="15.5" ry="18.70" fill="none" stroke="#b8b8b8" stroke-width="0.8" stroke-dasharray="1,1.8"/>
<clipPath id="c3"><rect x="104.4" y="347.0" width="490.20" height="39.0"/></clipPath>
<g clip-path="url(#c3)">
<path d="M120.74,366.40 L114.81,352.08 A15.50,15.50 0 0 1 126.67,352.08 Z" fill="#fbf1d4" stroke="#bbb3a2" stroke-width="0.9" stroke-linejoin="round"/>
<path d="M120.74,366.40 L126.40,352.73 A14.80,14.80 0 0 1 134.41,360.74 Z" fill="#fbf2d7" stroke="#bbb3a2" stroke-width="0.9" stroke-linejoin="round"/>
<path d="M120.74,366.40 L132.29,361.62 A12.50,12.50 0 0 1 132.29,371.18 Z" fill="#fcf6e3" stroke="#bbb3a2" stroke-width="0.9" stroke-linejoin="round"/>
<path d="M120.74,366.40 L131.83,370.99 A12.00,12.00 0 0 1 125.33,377.49 Z" fill="#fdf7e6" stroke="#bbb3a2" stroke-width="0.9" stroke-linejoin="round"/>
<path d="M120.74,366.40 L126.48,380.26 A15.00,15.00 0 0 1 115.00,380.26 Z" fill="#fbf3da" stroke="#bbb3a2" stroke-width="0.9" stroke-linejoin="round"/>
<path d="M120.74,366.40 L114.04,382.57 A17.50,17.50 0 0 1 104.57,373.10 Z" fill="#faeece" stroke="#bbb3a2" stroke-width="0.9" stroke-linejoin="round"/>
<path d="M120.74,366.40 L106.88,372.14 A15.00,15.00 0 0 1 106.88,360.66 Z" fill="#fcf4dd" stroke="#bbb3a2" stroke-width="0.9" stroke-linejoin="round"/>
<path d="M120.74,366.40 L108.73,361.43 A13.00,13.00 0 0 1 115.77,354.39 Z" fill="#fcf6e3" stroke="#bbb3a2" stroke-width="0.9" stroke-linejoin="round"/>
<path d="M153.42,366.40 L146.99,350.88 A16.80,16.80 0 0 1 159.85,350.88 Z" fill="#fbf1d4" stroke="#bbb3a2" stroke-width="0.9" stroke-linejoin="round"/>
<path d="M153.42,366.40 L159.35,352.08 A15.50,15.50 0 0 1 167.74,360.47 Z" fill="#fbf2d7" stroke="#bbb3a2" stroke-width="0.9" stroke-linejoin="round"/>
<path d="M153.42,366.40 L166.17,361.12 A13.80,13.80 0 0 1 166.17,371.68 Z" fill="#fcf6e3" stroke="#bbb3a2" stroke-width="0.9" stroke-linejoin="round"/>
<path d="M153.42,366.40 L165.25,371.30 A12.80,12.80 0 0 1 158.32,378.23 Z" fill="#fdf7e6" stroke="#bbb3a2" stroke-width="0.9" stroke-linejoin="round"/>
<path d="M153.42,366.40 L160.23,382.85 A17.80,17.80 0 0 1 146.61,382.85 Z" fill="#fbf3da" stroke="#bbb3a2" stroke-width="0.9" stroke-linejoin="round"/>
<path d="M153.42,366.40 L146.53,383.03 A18.00,18.00 0 0 1 136.79,373.29 Z" fill="#faeece" stroke="#bbb3a2" stroke-width="0.9" stroke-linejoin="round"/>
<path d="M153.42,366.40 L139.75,372.06 A14.80,14.80 0 0 1 139.75,360.74 Z" fill="#fcf4dd" stroke="#bbb3a2" stroke-width="0.9" stroke-linejoin="round"/>
<path d="M153.42,366.40 L141.41,361.43 A13.00,13.00 0 0 1 148.45,354.39 Z" fill="#fcf6e3" stroke="#bbb3a2" stroke-width="0.9" stroke-linejoin="round"/>
<path d="M186.10,366.40 L179.98,351.62 A16.00,16.00 0 0 1 192.22,351.62 Z" fill="#fbf1d4" stroke="#bbb3a2" stroke-width="0.9" stroke-linejoin="round"/>
<path d="M186.10,366.40 L192.34,351.34 A16.30,16.30 0 0 1 201.16,360.16 Z" fill="#fbf2d7" stroke="#bbb3a2" stroke-width="0.9" stroke-linejoin="round"/>
<path d="M186.10,366.40 L199.03,361.04 A14.00,14.00 0 0 1 199.03,371.76 Z" fill="#fcf6e3" stroke="#bbb3a2" stroke-width="0.9" stroke-linejoin="round"/>
<path d="M186.10,366.40 L197.46,371.11 A12.30,12.30 0 0 1 190.81,377.76 Z" fill="#fdf7e6" stroke="#bbb3a2" stroke-width="0.9" stroke-linejoin="round"/>
<path d="M186.10,366.40 L191.84,380.26 A15.00,15.00 0 0 1 180.36,380.26 Z" fill="#fbf3da" stroke="#bbb3a2" stroke-width="0.9" stroke-linejoin="round"/>
<path d="M186.10,366.40 L179.21,383.03 A18.00,18.00 0 0 1 169.47,373.29 Z" fill="#faeece" stroke="#bbb3a2" stroke-width="0.9" stroke-linejoin="round"/>
<path d="M186.10,366.40 L172.43,372.06 A14.80,14.80 0 0 1 172.43,360.74 Z" fill="#fcf4dd" stroke="#bbb3a2" stroke-width="0.9" stroke-linejoin="round"/>
<path d="M186.10,366.40 L173.63,361.23 A13.50,13.50 0 0 1 180.93,353.93 Z" fill="#fcf6e3" stroke="#bbb3a2" stroke-width="0.9" stroke-linejoin="round"/>
<path d="M218.78,366.40 L213.04,352.54 A15.00,15.00 0 0 1 224.52,352.54 Z" fill="#fbf1d4" stroke="#bbb3a2" stroke-width="0.9" stroke-linejoin="round"/>
<path d="M218.78,366.40 L224.64,352.26 A15.30,15.30 0 0 1 232.92,360.54 Z" fill="#fbf2d7" stroke="#bbb3a2" stroke-width="0.9" stroke-linejoin="round"/>
<path d="M218.78,366.40 L230.05,361.73 A12.20,12.20 0 0 1 230.05,371.07 Z" fill="#fcf6e3" stroke="#bbb3a2" stroke-width="0.9" stroke-linejoin="round"/>
<path d="M218.78,366.40 L229.40,370.80 A11.50,11.50 0 0 1 223.18,377.02 Z" fill="#fdf7e6" stroke="#bbb3a2" stroke-width="0.9" stroke-linejoin="round"/>
<path d="M218.78,366.40 L224.44,380.07 A14.80,14.80 0 0 1 213.12,380.07 Z" fill="#fbf3da" stroke="#bbb3a2" stroke-width="0.9" stroke-linejoin="round"/>
<path d="M218.78,366.40 L211.89,383.03 A18.00,18.00 0 0 1 202.15,373.29 Z" fill="#faeece" stroke="#bbb3a2" stroke-width="0.9" stroke-linejoin="round"/>
<path d="M218.78,366.40 L206.03,371.68 A13.80,13.80 0 0 1 206.03,361.12 Z" fill="#fcf4dd" stroke="#bbb3a2" stroke-width="0.9" stroke-linejoin="round"/>
<path d="M218.78,366.40 L207.23,361.62 A12.50,12.50 0 0 1 214.00,354.85 Z" fill="#fcf6e3" stroke="#bbb3a2" stroke-width="0.9" stroke-linejoin="round"/>
<path d="M251.46,366.40 L245.15,351.16 A16.50,16.50 0 0 1 257.77,351.16 Z" fill="#fbf1d4" stroke="#bbb3a2" stroke-width="0.9" stroke-linejoin="round"/>
<path d="M251.46,366.40 L257.39,352.08 A15.50,15.50 0 0 1 265.78,360.47 Z" fill="#fbf2d7" stroke="#bbb3a2" stroke-width="0.9" stroke-linejoin="round"/>
<path d="M251.46,366.40 L263.47,361.43 A13.00,13.00 0 0 1 263.47,371.37 Z" fill="#fcf6e3" stroke="#bbb3a2" stroke-width="0.9" stroke-linejoin="round"/>
<path d="M251.46,366.40 L263.01,371.18 A12.50,12.50 0 0 1 256.24,377.95 Z" fill="#fdf7e6" stroke="#bbb3a2" stroke-width="0.9" stroke-linejoin="round"/>
<path d="M251.46,366.40 L257.43,380.81 A15.60,15.60 0 0 1 245.49,380.81 Z" fill="#fbf3da" stroke="#bbb3a2" stroke-width="0.9" stroke-linejoin="round"/>
<path d="M251.46,366.40 L244.38,383.49 A18.50,18.50 0 0 1 234.37,373.48 Z" fill="#faeece" stroke="#bbb3a2" stroke-width="0.9" stroke-linejoin="round"/>
<path d="M251.46,366.40 L237.79,372.06 A14.80,14.80 0 0 1 237.79,360.74 Z" fill="#fcf4dd" stroke="#bbb3a2" stroke-width="0.9" stroke-linejoin="round"/>
<path d="M251.46,366.40 L238.99,361.23 A13.50,13.50 0 0 1 246.29,353.93 Z" fill="#fcf6e3" stroke="#bbb3a2" stroke-width="0.9" stroke-linejoin="round"/>
<path d="M284.14,366.40 L277.75,350.97 A16.70,16.70 0 0 1 290.53,350.97 Z" fill="#fbf1d4" stroke="#bbb3a2" stroke-width="0.9" stroke-linejoin="round"/>
<path d="M284.14,366.40 L290.00,352.26 A15.30,15.30 0 0 1 298.28,360.54 Z" fill="#fbf2d7" stroke="#bbb3a2" stroke-width="0.9" stroke-linejoin="round"/>
<path d="M284.14,366.40 L296.24,361.39 A13.10,13.10 0 0 1 296.24,371.41 Z" fill="#fcf6e3" stroke="#bbb3a2" stroke-width="0.9" stroke-linejoin="round"/>
<path d="M284.14,366.40 L295.78,371.22 A12.60,12.60 0 0 1 288.96,378.04 Z" fill="#fdf7e6" stroke="#bbb3a2" stroke-width="0.9" stroke-linejoin="round"/>
<path d="M284.14,366.40 L290.22,381.09 A15.90,15.90 0 0 1 278.06,381.09 Z" fill="#fbf3da" stroke="#bbb3a2" stroke-width="0.9" stroke-linejoin="round"/>
<path d="M284.14,366.40 L277.06,383.49 A18.50,18.50 0 0 1 267.05,373.48 Z" fill="#faeece" stroke="#bbb3a2" stroke-width="0.9" stroke-linejoin="round"/>
<path d="M284.14,366.40 L270.84,371.91 A14.40,14.40 0 0 1 270.84,360.89 Z" fill="#fcf4dd" stroke="#bbb3a2" stroke-width="0.9" stroke-linejoin="round"/>
<path d="M284.14,366.40 L270.84,360.89 A14.40,14.40 0 0 1 278.63,353.10 Z" fill="#fcf6e3" stroke="#bbb3a2" stroke-width="0.9" stroke-linejoin="round"/>
<path d="M316.82,366.40 L310.43,350.97 A16.70,16.70 0 0 1 323.21,350.97 Z" fill="#fbf1d4" stroke="#bbb3a2" stroke-width="0.9" stroke-linejoin="round"/>
<path d="M316.82,366.40 L322.52,352.63 A14.90,14.90 0 0 1 330.59,360.70 Z" fill="#fbf2d7" stroke="#bbb3a2" stroke-width="0.9" stroke-linejoin="round"/>
<path d="M316.82,366.40 L329.66,361.08 A13.90,13.90 0 0 1 329.66,371.72 Z" fill="#fcf6e3" stroke="#bbb3a2" stroke-width="0.9" stroke-linejoin="round"/>
<path d="M316.82,366.40 L328.37,371.18 A12.50,12.50 0 0 1 321.60,377.95 Z" fill="#fdf7e6" stroke="#bbb3a2" stroke-width="0.9" stroke-linejoin="round"/>
<path d="M316.82,366.40 L322.98,381.27 A16.10,16.10 0 0 1 310.66,381.27 Z" fill="#fbf3da" stroke="#bbb3a2" stroke-width="0.9" stroke-linejoin="round"/>
<path d="M316.82,366.40 L309.55,383.95 A19.00,19.00 0 0 1 299.27,373.67 Z" fill="#faeece" stroke="#bbb3a2" stroke-width="0.9" stroke-linejoin="round"/>
<path d="M316.82,366.40 L302.78,372.22 A15.20,15.20 0 0 1 302.78,360.58 Z" fill="#fcf4dd" stroke="#bbb3a2" stroke-width="0.9" stroke-linejoin="round"/>
<path d="M316.82,366.40 L304.26,361.20 A13.60,13.60 0 0 1 311.62,353.84 Z" fill="#fcf6e3" stroke="#bbb3a2" stroke-width="0.9" stroke-linejoin="round"/>
<path d="M349.50,366.40 L342.92,350.51 A17.20,17.20 0 0 1 356.08,350.51 Z" fill="#fbf1d4" stroke="#bbb3a2" stroke-width="0.9" stroke-linejoin="round"/>
<path d="M349.50,366.40 L355.47,351.99 A15.60,15.60 0 0 1 363.91,360.43 Z" fill="#fbf2d7" stroke="#bbb3a2" stroke-width="0.9" stroke-linejoin="round"/>
<path d="M349.50,366.40 L361.79,361.31 A13.30,13.30 0 0 1 361.79,371.49 Z" fill="#fcf6e3" stroke="#bbb3a2" stroke-width="0.9" stroke-linejoin="round"/>
<path d="M349.50,366.40 L361.33,371.30 A12.80,12.80 0 0 1 354.40,378.23 Z" fill="#fdf7e6" stroke="#bbb3a2" stroke-width="0.9" stroke-linejoin="round"/>
<path d="M349.50,366.40 L355.58,381.09 A15.90,15.90 0 0 1 343.42,381.09 Z" fill="#fbf3da" stroke="#bbb3a2" stroke-width="0.9" stroke-linejoin="round"/>
<path d="M349.50,366.40 L342.42,383.49 A18.50,18.50 0 0 1 332.41,373.48 Z" fill="#faeece" stroke="#bbb3a2" stroke-width="0.9" stroke-linejoin="round"/>
<path d="M349.50,366.40 L335.36,372.26 A15.30,15.30 0 0 1 335.36,360.54 Z" fill="#fcf4dd" stroke="#bbb3a2" stroke-width="0.9" stroke-linejoin="round"/>
<path d="M349.50,366.40 L336.47,361.00 A14.10,14.10 0 0 1 344.10,353.37 Z" fill="#fcf6e3" stroke="#bbb3a2" stroke-width="0.9" stroke-linejoin="round"/>
<path d="M382.18,366.40 L375.75,350.88 A16.80,16.80 0 0 1 388.61,350.88 Z" fill="#fbf1d4" stroke="#bbb3a2" stroke-width="0.9" stroke-linejoin="round"/>
<path d="M382.18,366.40 L387.77,352.91 A14.60,14.60 0 0 1 395.67,360.81 Z" fill="#fbf2d7" stroke="#bbb3a2" stroke-width="0.9" stroke-linejoin="round"/>
<path d="M382.18,366.40 L394.84,361.16 A13.70,13.70 0 0 1 394.84,371.64 Z" fill="#fcf6e3" stroke="#bbb3a2" stroke-width="0.9" stroke-linejoin="round"/>
<path d="M382.18,366.40 L393.73,371.18 A12.50,12.50 0 0 1 386.96,377.95 Z" fill="#fdf7e6" stroke="#bbb3a2" stroke-width="0.9" stroke-linejoin="round"/>
<path d="M382.18,366.40 L388.30,381.18 A16.00,16.00 0 0 1 376.06,381.18 Z" fill="#fbf3da" stroke="#bbb3a2" stroke-width="0.9" stroke-linejoin="round"/>
<path d="M382.18,366.40 L374.72,384.42 A19.50,19.50 0 0 1 364.16,373.86 Z" fill="#faeece" stroke="#bbb3a2" stroke-width="0.9" stroke-linejoin="round"/>
<path d="M382.18,366.40 L368.04,372.26 A15.30,15.30 0 0 1 368.04,360.54 Z" fill="#fcf4dd" stroke="#bbb3a2" stroke-width="0.9" stroke-linejoin="round"/>
<path d="M382.18,366.40 L368.78,360.85 A14.50,14.50 0 0 1 376.63,353.00 Z" fill="#fcf6e3" stroke="#bbb3a2" stroke-width="0.9" stroke-linejoin="round"/>
<path d="M414.86,366.40 L408.39,350.79 A16.90,16.90 0 0 1 421.33,350.79 Z" fill="#fbf1d4" stroke="#bbb3a2" stroke-width="0.9" stroke-linejoin="round"/>
<path d="M414.86,366.40 L420.83,351.99 A15.60,15.60 0 0 1 429.27,360.43 Z" fill="#fbf2d7" stroke="#bbb3a2" stroke-width="0.9" stroke-linejoin="round"/>
<path d="M414.86,366.40 L427.06,361.35 A13.20,13.20 0 0 1 427.06,371.45 Z" fill="#fcf6e3" stroke="#bbb3a2" stroke-width="0.9" stroke-linejoin="round"/>
<path d="M414.86,366.40 L426.87,371.37 A13.00,13.00 0 0 1 419.83,378.41 Z" fill="#fdf7e6" stroke="#bbb3a2" stroke-width="0.9" stroke-linejoin="round"/>
<path d="M414.86,366.40 L421.06,381.37 A16.20,16.20 0 0 1 408.66,381.37 Z" fill="#fbf3da" stroke="#bbb3a2" stroke-width="0.9" stroke-linejoin="round"/>
<path d="M414.86,366.40 L407.78,383.49 A18.50,18.50 0 0 1 397.77,373.48 Z" fill="#faeece" stroke="#bbb3a2" stroke-width="0.9" stroke-linejoin="round"/>
<path d="M414.86,366.40 L401.37,371.99 A14.60,14.60 0 0 1 401.37,360.81 Z" fill="#fcf4dd" stroke="#bbb3a2" stroke-width="0.9" stroke-linejoin="round"/>
<path d="M414.86,366.40 L402.20,361.16 A13.70,13.70 0 0 1 409.62,353.74 Z" fill="#fcf6e3" stroke="#bbb3a2" stroke-width="0.9" stroke-linejoin="round"/>
<path d="M447.54,366.40 L440.80,350.14 A17.60,17.60 0 0 1 454.28,350.14 Z" fill="#fbf1d4" stroke="#bbb3a2" stroke-width="0.9" stroke-linejoin="round"/>
<path d="M447.54,366.40 L453.32,352.45 A15.10,15.10 0 0 1 461.49,360.62 Z" fill="#fbf2d7" stroke="#bbb3a2" stroke-width="0.9" stroke-linejoin="round"/>
<path d="M447.54,366.40 L460.01,361.23 A13.50,13.50 0 0 1 460.01,371.57 Z" fill="#fcf6e3" stroke="#bbb3a2" stroke-width="0.9" stroke-linejoin="round"/>
<path d="M447.54,366.40 L458.90,371.11 A12.30,12.30 0 0 1 452.25,377.76 Z" fill="#fdf7e6" stroke="#bbb3a2" stroke-width="0.9" stroke-linejoin="round"/>
<path d="M447.54,366.40 L453.55,380.90 A15.70,15.70 0 0 1 441.53,380.90 Z" fill="#fbf3da" stroke="#bbb3a2" stroke-width="0.9" stroke-linejoin="round"/>
<path d="M447.54,366.40 L440.31,383.86 A18.90,18.90 0 0 1 430.08,373.63 Z" fill="#faeece" stroke="#bbb3a2" stroke-width="0.9" stroke-linejoin="round"/>
<path d="M447.54,366.40 L433.87,372.06 A14.80,14.80 0 0 1 433.87,360.74 Z" fill="#fcf4dd" stroke="#bbb3a2" stroke-width="0.9" stroke-linejoin="round"/>
<path d="M447.54,366.40 L434.51,361.00 A14.10,14.10 0 0 1 442.14,353.37 Z" fill="#fcf6e3" stroke="#bbb3a2" stroke-width="0.9" stroke-linejoin="round"/>
<path d="M480.22,366.40 L473.68,350.60 A17.10,17.10 0 0 1 486.76,350.60 Z" fill="#fbf1d4" stroke="#bbb3a2" stroke-width="0.9" stroke-linejoin="round"/>
<path d="M480.22,366.40 L486.23,351.90 A15.70,15.70 0 0 1 494.72,360.39 Z" fill="#fbf2d7" stroke="#bbb3a2" stroke-width="0.9" stroke-linejoin="round"/>
<path d="M480.22,366.40 L492.69,361.23 A13.50,13.50 0 0 1 492.69,371.57 Z" fill="#fcf6e3" stroke="#bbb3a2" stroke-width="0.9" stroke-linejoin="round"/>
<path d="M480.22,366.40 L492.23,371.37 A13.00,13.00 0 0 1 485.19,378.41 Z" fill="#fdf7e6" stroke="#bbb3a2" stroke-width="0.9" stroke-linejoin="round"/>
<path d="M480.22,366.40 L486.38,381.27 A16.10,16.10 0 0 1 474.06,381.27 Z" fill="#fbf3da" stroke="#bbb3a2" stroke-width="0.9" stroke-linejoin="round"/>
<path d="M480.22,366.40 L472.72,384.51 A19.60,19.60 0 0 1 462.11,373.90 Z" fill="#faeece" stroke="#bbb3a2" stroke-width="0.9" stroke-linejoin="round"/>
<path d="M480.22,366.40 L466.18,372.22 A15.20,15.20 0 0 1 466.18,360.58 Z" fill="#fcf4dd" stroke="#bbb3a2" stroke-width="0.9" stroke-linejoin="round"/>
<path d="M480.22,366.40 L467.66,361.20 A13.60,13.60 0 0 1 475.02,353.84 Z" fill="#fcf6e3" stroke="#bbb3a2" stroke-width="0.9" stroke-linejoin="round"/>
<path d="M512.90,366.40 L506.24,350.32 A17.40,17.40 0 0 1 519.56,350.32 Z" fill="#fbf1d4" stroke="#bbb3a2" stroke-width="0.9" stroke-linejoin="round"/>
<path d="M512.90,366.40 L518.95,351.80 A15.80,15.80 0 0 1 527.50,360.35 Z" fill="#fbf2d7" stroke="#bbb3a2" stroke-width="0.9" stroke-linejoin="round"/>
<path d="M512.90,366.40 L525.65,361.12 A13.80,13.80 0 0 1 525.65,371.68 Z" fill="#fcf6e3" stroke="#bbb3a2" stroke-width="0.9" stroke-linejoin="round"/>
<path d="M512.90,366.40 L524.54,371.22 A12.60,12.60 0 0 1 517.72,378.04 Z" fill="#fdf7e6" stroke="#bbb3a2" stroke-width="0.9" stroke-linejoin="round"/>
<path d="M512.90,366.40 L519.02,381.18 A16.00,16.00 0 0 1 506.78,381.18 Z" fill="#fbf3da" stroke="#bbb3a2" stroke-width="0.9" stroke-linejoin="round"/>
<path d="M512.90,366.40 L505.74,383.68 A18.70,18.70 0 0 1 495.62,373.56 Z" fill="#faeece" stroke="#bbb3a2" stroke-width="0.9" stroke-linejoin="round"/>
<path d="M512.90,366.40 L498.67,372.29 A15.40,15.40 0 0 1 498.67,360.51 Z" fill="#fcf4dd" stroke="#bbb3a2" stroke-width="0.9" stroke-linejoin="round"/>
<path d="M512.90,366.40 L499.87,361.00 A14.10,14.10 0 0 1 507.50,353.37 Z" fill="#fcf6e3" stroke="#bbb3a2" stroke-width="0.9" stroke-linejoin="round"/>
<path d="M545.58,366.40 L539.19,350.97 A16.70,16.70 0 0 1 551.97,350.97 Z" fill="#fbf1d4" stroke="#bbb3a2" stroke-width="0.9" stroke-linejoin="round"/>
<path d="M545.58,366.40 L551.21,352.82 A14.70,14.70 0 0 1 559.16,360.77 Z" fill="#fbf2d7" stroke="#bbb3a2" stroke-width="0.9" stroke-linejoin="round"/>
<path d="M545.58,366.40 L558.24,361.16 A13.70,13.70 0 0 1 558.24,371.64 Z" fill="#fcf6e3" stroke="#bbb3a2" stroke-width="0.9" stroke-linejoin="round"/>
<path d="M545.58,366.40 L557.68,371.41 A13.10,13.10 0 0 1 550.59,378.50 Z" fill="#fdf7e6" stroke="#bbb3a2" stroke-width="0.9" stroke-linejoin="round"/>
<path d="M545.58,366.40 L551.40,380.44 A15.20,15.20 0 0 1 539.76,380.44 Z" fill="#fbf3da" stroke="#bbb3a2" stroke-width="0.9" stroke-linejoin="round"/>
<path d="M545.58,366.40 L538.16,384.32 A19.40,19.40 0 0 1 527.66,373.82 Z" fill="#faeece" stroke="#bbb3a2" stroke-width="0.9" stroke-linejoin="round"/>
<path d="M545.58,366.40 L531.81,372.10 A14.90,14.90 0 0 1 531.81,360.70 Z" fill="#fcf4dd" stroke="#bbb3a2" stroke-width="0.9" stroke-linejoin="round"/>
<path d="M545.58,366.40 L533.02,361.20 A13.60,13.60 0 0 1 540.38,353.84 Z" fill="#fcf6e3" stroke="#bbb3a2" stroke-width="0.9" stroke-linejoin="round"/>
<path d="M578.26,366.40 L571.83,350.88 A16.80,16.80 0 0 1 584.69,350.88 Z" fill="#fbf1d4" stroke="#bbb3a2" stroke-width="0.9" stroke-linejoin="round"/>
<path d="M578.26,366.40 L584.19,352.08 A15.50,15.50 0 0 1 592.58,360.47 Z" fill="#fbf2d7" stroke="#bbb3a2" stroke-width="0.9" stroke-linejoin="round"/>
<path d="M578.26,366.40 L590.92,361.16 A13.70,13.70 0 0 1 590.92,371.64 Z" fill="#fcf6e3" stroke="#bbb3a2" stroke-width="0.9" stroke-linejoin="round"/>
<path d="M578.26,366.40 L589.35,370.99 A12.00,12.00 0 0 1 582.85,377.49 Z" fill="#fdf7e6" stroke="#bbb3a2" stroke-width="0.9" stroke-linejoin="round"/>
<path d="M578.26,366.40 L584.31,381.00 A15.80,15.80 0 0 1 572.21,381.00 Z" fill="#fbf3da" stroke="#bbb3a2" stroke-width="0.9" stroke-linejoin="round"/>
<path d="M578.26,366.40 L571.18,383.49 A18.50,18.50 0 0 1 561.17,373.48 Z" fill="#faeece" stroke="#bbb3a2" stroke-width="0.9" stroke-linejoin="round"/>
<path d="M578.26,366.40 L564.12,372.26 A15.30,15.30 0 0 1 564.12,360.54 Z" fill="#fcf4dd" stroke="#bbb3a2" stroke-width="0.9" stroke-linejoin="round"/>
<path d="M578.26,366.40 L565.51,361.12 A13.80,13.80 0 0 1 572.98,353.65 Z" fill="#fcf6e3" stroke="#bbb3a2" stroke-width="0.9" stroke-linejoin="round"/>
</g>
<line x1="104.4" y1="356.75" x2="594.60" y2="356.75" stroke="#bdbdbd" stroke-width="0.9" stroke-dasharray="1,1.5" opacity="0.8"/>
<line x1="104.4" y1="366.50" x2="594.60" y2="366.50" stroke="#bdbdbd" stroke-width="0.9" stroke-dasharray="1,1.5" opacity="0.8"/>
<line x1="104.4" y1="376.25" x2="594.60" y2="376.25" stroke="#bdbdbd" stroke-width="0.9" stroke-dasharray="1,1.5" opacity="0.8"/>
<line x1="104.4" y1="347.00" x2="594.60" y2="347.00" stroke="#c4b8a4" stroke-width="1.2" style="mix-blend-mode:multiply"/>
<line x1="594.60" y1="347.00" x2="594.60" y2="386.00" stroke="#c2b7a2" stroke-width="1.1"/>
<line x1="104.4" y1="347.00" x2="104.4" y2="391.00" stroke="#5b554a" stroke-width="1.3" stroke-linecap="round"/>
<line x1="103.80000000000001" y1="386.00" x2="595.20" y2="386.00" stroke="#5b554a" stroke-width="1.6"/>
<line x1="104.40" y1="386.00" x2="104.40" y2="391.40" stroke="#5b554a" stroke-width="1.3"/>
<line x1="112.57" y1="386.00" x2="112.57" y2="389.70" stroke="#8c867b" stroke-width="0.9"/>
<line x1="120.74" y1="386.00" x2="120.74" y2="389.70" stroke="#8c867b" stroke-width="0.9"/>
<line x1="128.91" y1="386.00" x2="128.91" y2="389.70" stroke="#8c867b" stroke-width="0.9"/>
<line x1="137.08" y1="386.00" x2="137.08" y2="391.40" stroke="#5b554a" stroke-width="1.3"/>
<line x1="145.25" y1="386.00" x2="145.25" y2="389.70" stroke="#8c867b" stroke-width="0.9"/>
<line x1="153.42" y1="386.00" x2="153.42" y2="389.70" stroke="#8c867b" stroke-width="0.9"/>
<line x1="161.59" y1="386.00" x2="161.59" y2="389.70" stroke="#8c867b" stroke-width="0.9"/>
<line x1="169.76" y1="386.00" x2="169.76" y2="391.40" stroke="#5b554a" stroke-width="1.3"/>
<line x1="177.93" y1="386.00" x2="177.93" y2="389.70" stroke="#8c867b" stroke-width="0.9"/>
<line x1="186.10" y1="386.00" x2="186.10" y2="389.70" stroke="#8c867b" stroke-width="0.9"/>
<line x1="194.27" y1="386.00" x2="194.27" y2="389.70" stroke="#8c867b" stroke-width="0.9"/>
<line x1="202.44" y1="386.00" x2="202.44" y2="391.40" stroke="#5b554a" stroke-width="1.3"/>
<line x1="210.61" y1="386.00" x2="210.61" y2="389.70" stroke="#8c867b" stroke-width="0.9"/>
<line x1="218.78" y1="386.00" x2="218.78" y2="389.70" stroke="#8c867b" stroke-width="0.9"/>
<line x1="226.95" y1="386.00" x2="226.95" y2="389.70" stroke="#8c867b" stroke-width="0.9"/>
<line x1="235.12" y1="386.00" x2="235.12" y2="391.40" stroke="#5b554a" stroke-width="1.3"/>
<line x1="243.29" y1="386.00" x2="243.29" y2="389.70" stroke="#8c867b" stroke-width="0.9"/>
<line x1="251.46" y1="386.00" x2="251.46" y2="389.70" stroke="#8c867b" stroke-width="0.9"/>
<line x1="259.63" y1="386.00" x2="259.63" y2="389.70" stroke="#8c867b" stroke-width="0.9"/>
<line x1="267.80" y1="386.00" x2="267.80" y2="391.40" stroke="#5b554a" stroke-width="1.3"/>
<line x1="275.97" y1="386.00" x2="275.97" y2="389.70" stroke="#8c867b" stroke-width="0.9"/>
<line x1="284.14" y1="386.00" x2="284.14" y2="389.70" stroke="#8c867b" stroke-width="0.9"/>
<line x1="292.31" y1="386.00" x2="292.31" y2="389.70" stroke="#8c867b" stroke-width="0.9"/>
<line x1="300.48" y1="386.00" x2="300.48" y2="391.40" stroke="#5b554a" stroke-width="1.3"/>
<line x1="308.65" y1="386.00" x2="308.65" y2="389.70" stroke="#8c867b" stroke-width="0.9"/>
<line x1="316.82" y1="386.00" x2="316.82" y2="389.70" stroke="#8c867b" stroke-width="0.9"/>
<line x1="324.99" y1="386.00" x2="324.99" y2="389.70" stroke="#8c867b" stroke-width="0.9"/>
<line x1="333.16" y1="386.00" x2="333.16" y2="391.40" stroke="#5b554a" stroke-width="1.3"/>
<line x1="341.33" y1="386.00" x2="341.33" y2="389.70" stroke="#8c867b" stroke-width="0.9"/>
<line x1="349.50" y1="386.00" x2="349.50" y2="389.70" stroke="#8c867b" stroke-width="0.9"/>
<line x1="357.67" y1="386.00" x2="357.67" y2="389.70" stroke="#8c867b" stroke-width="0.9"/>
<line x1="365.84" y1="386.00" x2="365.84" y2="391.40" stroke="#5b554a" stroke-width="1.3"/>
<line x1="374.01" y1="386.00" x2="374.01" y2="389.70" stroke="#8c867b" stroke-width="0.9"/>
<line x1="382.18" y1="386.00" x2="382.18" y2="389.70" stroke="#8c867b" stroke-width="0.9"/>
<line x1="390.35" y1="386.00" x2="390.35" y2="389.70" stroke="#8c867b" stroke-width="0.9"/>
<line x1="398.52" y1="386.00" x2="398.52" y2="391.40" stroke="#5b554a" stroke-width="1.3"/>
<line x1="406.69" y1="386.00" x2="406.69" y2="389.70" stroke="#8c867b" stroke-width="0.9"/>
<line x1="414.86" y1="386.00" x2="414.86" y2="389.70" stroke="#8c867b" stroke-width="0.9"/>
<line x1="423.03" y1="386.00" x2="423.03" y2="389.70" stroke="#8c867b" stroke-width="0.9"/>
<line x1="431.20" y1="386.00" x2="431.20" y2="391.40" stroke="#5b554a" stroke-width="1.3"/>
<line x1="439.37" y1="386.00" x2="439.37" y2="389.70" stroke="#8c867b" stroke-width="0.9"/>
<line x1="447.54" y1="386.00" x2="447.54" y2="389.70" stroke="#8c867b" stroke-width="0.9"/>
<line x1="455.71" y1="386.00" x2="455.71" y2="389.70" stroke="#8c867b" stroke-width="0.9"/>
<line x1="463.88" y1="386.00" x2="463.88" y2="391.40" stroke="#5b554a" stroke-width="1.3"/>
<line x1="472.05" y1="386.00" x2="472.05" y2="389.70" stroke="#8c867b" stroke-width="0.9"/>
<line x1="480.22" y1="386.00" x2="480.22" y2="389.70" stroke="#8c867b" stroke-width="0.9"/>
<line x1="488.39" y1="386.00" x2="488.39" y2="389.70" stroke="#8c867b" stroke-width="0.9"/>
<line x1="496.56" y1="386.00" x2="496.56" y2="391.40" stroke="#5b554a" stroke-width="1.3"/>
<line x1="504.73" y1="386.00" x2="504.73" y2="389.70" stroke="#8c867b" stroke-width="0.9"/>
<line x1="512.90" y1="386.00" x2="512.90" y2="389.70" stroke="#8c867b" stroke-width="0.9"/>
<line x1="521.07" y1="386.00" x2="521.07" y2="389.70" stroke="#8c867b" stroke-width="0.9"/>
<line x1="529.24" y1="386.00" x2="529.24" y2="391.40" stroke="#5b554a" stroke-width="1.3"/>
<line x1="537.41" y1="386.00" x2="537.41" y2="389.70" stroke="#8c867b" stroke-width="0.9"/>
<line x1="545.58" y1="386.00" x2="545.58" y2="389.70" stroke="#8c867b" stroke-width="0.9"/>
<line x1="553.75" y1="386.00" x2="553.75" y2="389.70" stroke="#8c867b" stroke-width="0.9"/>
<line x1="561.92" y1="386.00" x2="561.92" y2="391.40" stroke="#5b554a" stroke-width="1.3"/>
<line x1="570.09" y1="386.00" x2="570.09" y2="389.70" stroke="#8c867b" stroke-width="0.9"/>
<line x1="578.26" y1="386.00" x2="578.26" y2="389.70" stroke="#8c867b" stroke-width="0.9"/>
<line x1="586.43" y1="386.00" x2="586.43" y2="389.70" stroke="#8c867b" stroke-width="0.9"/>
<line x1="594.60" y1="386.00" x2="594.60" y2="391.40" stroke="#5b554a" stroke-width="1.3"/>
<text x="90.30" y="344.60" font-size="10.05" fill="#3a3a3a" text-anchor="start" >M-Climate of the distribution of 10m Wind Direction</text>
<defs><linearGradient id="g339" x1="0" x2="1"><stop offset="0" stop-color="#fefcf5"/><stop offset="0.25" stop-color="#f7e2aa"/><stop offset="0.5" stop-color="#f0cb6c"/><stop offset="0.75" stop-color="#e7b63c"/><stop offset="1.0" stop-color="#dca11a"/></linearGradient></defs>
<rect x="470.3" y="339.2" width="104.80" height="3.6" rx="1.2" fill="url(#g339)" stroke="#d9c48a" stroke-width="0.5"/>
<text x="474.7" y="336.90" font-size="5.6" fill="#555" text-anchor="middle">0%</text>
<text x="499.9" y="336.90" font-size="5.6" fill="#555" text-anchor="middle">25%</text>
<text x="522.8" y="336.90" font-size="5.6" fill="#555" text-anchor="middle">50%</text>
<text x="545.8" y="336.90" font-size="5.6" fill="#555" text-anchor="middle">75%</text>
<text x="570.5" y="336.90" font-size="5.6" fill="#555" text-anchor="middle">100%</text>
<line x1="137.08" y1="410.40" x2="137.08" y2="442.50" stroke="#c6c6c6" stroke-width="1" stroke-dasharray="1,1.5"/>
<line x1="169.76" y1="410.40" x2="169.76" y2="442.50" stroke="#c6c6c6" stroke-width="1" stroke-dasharray="1,1.5"/>
<line x1="202.44" y1="410.40" x2="202.44" y2="442.50" stroke="#c6c6c6" stroke-width="1" stroke-dasharray="1,1.5"/>
<line x1="235.12" y1="410.40" x2="235.12" y2="442.50" stroke="#c6c6c6" stroke-width="1" stroke-dasharray="1,1.5"/>
<line x1="267.80" y1="410.40" x2="267.80" y2="442.50" stroke="#c6c6c6" stroke-width="1" stroke-dasharray="1,1.5"/>
<line x1="300.48" y1="410.40" x2="300.48" y2="442.50" stroke="#c6c6c6" stroke-width="1" stroke-dasharray="1,1.5"/>
<line x1="333.16" y1="410.40" x2="333.16" y2="442.50" stroke="#c6c6c6" stroke-width="1" stroke-dasharray="1,1.5"/>
<line x1="365.84" y1="410.40" x2="365.84" y2="442.50" stroke="#c6c6c6" stroke-width="1" stroke-dasharray="1,1.5"/>
<line x1="398.52" y1="410.40" x2="398.52" y2="442.50" stroke="#c6c6c6" stroke-width="1" stroke-dasharray="1,1.5"/>
<line x1="431.20" y1="410.40" x2="431.20" y2="442.50" stroke="#c6c6c6" stroke-width="1" stroke-dasharray="1,1.5"/>
<line x1="463.88" y1="410.40" x2="463.88" y2="442.50" stroke="#c6c6c6" stroke-width="1" stroke-dasharray="1,1.5"/>
<line x1="496.56" y1="410.40" x2="496.56" y2="442.50" stroke="#c6c6c6" stroke-width="1" stroke-dasharray="1,1.5"/>
<line x1="529.24" y1="410.40" x2="529.24" y2="442.50" stroke="#c6c6c6" stroke-width="1" stroke-dasharray="1,1.5"/>
<line x1="561.92" y1="410.40" x2="561.92" y2="442.50" stroke="#c6c6c6" stroke-width="1" stroke-dasharray="1,1.5"/>
<ellipse cx="120.74" cy="426.20" rx="15.5" ry="15.25" fill="none" stroke="#b8b8b8" stroke-width="0.8" stroke-dasharray="1,1.8"/>
<ellipse cx="153.42" cy="426.20" rx="15.5" ry="15.25" fill="none" stroke="#b8b8b8" stroke-width="0.8" stroke-dasharray="1,1.8"/>
<ellipse cx="186.10" cy="426.20" rx="15.5" ry="15.25" fill="none" stroke="#b8b8b8" stroke-width="0.8" stroke-dasharray="1,1.8"/>
<ellipse cx="218.78" cy="426.20" rx="15.5" ry="15.25" fill="none" stroke="#b8b8b8" stroke-width="0.8" stroke-dasharray="1,1.8"/>
<ellipse cx="251.46" cy="426.20" rx="15.5" ry="15.25" fill="none" stroke="#b8b8b8" stroke-width="0.8" stroke-dasharray="1,1.8"/>
<ellipse cx="284.14" cy="426.20" rx="15.5" ry="15.25" fill="none" stroke="#b8b8b8" stroke-width="0.8" stroke-dasharray="1,1.8"/>
<ellipse cx="316.82" cy="426.20" rx="15.5" ry="15.25" fill="none" stroke="#b8b8b8" stroke-width="0.8" stroke-dasharray="1,1.8"/>
<ellipse cx="349.50" cy="426.20" rx="15.5" ry="15.25" fill="none" stroke="#b8b8b8" stroke-width="0.8" stroke-dasharray="1,1.8"/>
<ellipse cx="382.18" cy="426.20" rx="15.5" ry="15.25" fill="none" stroke="#b8b8b8" stroke-width="0.8" stroke-dasharray="1,1.8"/>
<ellipse cx="414.86" cy="426.20" rx="15.5" ry="15.25" fill="none" stroke="#b8b8b8" stroke-width="0.8" stroke-dasharray="1,1.8"/>
<ellipse cx="447.54" cy="426.20" rx="15.5" ry="15.25" fill="none" stroke="#b8b8b8" stroke-width="0.8" stroke-dasharray="1,1.8"/>
<ellipse cx="480.22" cy="426.20" rx="15.5" ry="15.25" fill="none" stroke="#b8b8b8" stroke-width="0.8" stroke-dasharray="1,1.8"/>
<ellipse cx="512.90" cy="426.20" rx="15.5" ry="15.25" fill="none" stroke="#b8b8b8" stroke-width="0.8" stroke-dasharray="1,1.8"/>
<ellipse cx="545.58" cy="426.20" rx="15.5" ry="15.25" fill="none" stroke="#b8b8b8" stroke-width="0.8" stroke-dasharray="1,1.8"/>
<ellipse cx="578.26" cy="426.20" rx="15.5" ry="15.25" fill="none" stroke="#b8b8b8" stroke-width="0.8" stroke-dasharray="1,1.8"/>
<clipPath id="c4"><rect x="104.4" y="410.4" width="490.20" height="32.10000000000002"/></clipPath>
<g clip-path="url(#c4)">
<path d="M120.74,426.20 L119.02,422.04 A4.50,4.50 0 0 1 122.46,422.04 Z" fill="#fdf8e9" stroke="#bbb3a2" stroke-width="0.9" stroke-linejoin="round"/>
<path d="M120.74,426.20 L126.48,440.06 A15.00,15.00 0 0 1 115.00,440.06 Z" fill="#f3d68a" stroke="#bbb3a2" stroke-width="0.9" stroke-linejoin="round"/>
<path d="M120.74,426.20 L114.88,440.34 A15.30,15.30 0 0 1 106.60,432.06 Z" fill="#f3d485" stroke="#bbb3a2" stroke-width="0.9" stroke-linejoin="round"/>
<path d="M120.74,426.20 L115.66,424.10 A5.50,5.50 0 0 1 118.64,421.12 Z" fill="#fdf8e9" stroke="#bbb3a2" stroke-width="0.9" stroke-linejoin="round"/>
<path d="M153.42,426.20 L154.76,422.97 A3.50,3.50 0 0 1 156.65,424.86 Z" fill="#fdf8e9" stroke="#bbb3a2" stroke-width="0.9" stroke-linejoin="round"/>
<path d="M153.42,426.20 L155.73,427.16 A2.50,2.50 0 0 1 154.38,428.51 Z" fill="#fdf8e9" stroke="#bbb3a2" stroke-width="0.9" stroke-linejoin="round"/>
<path d="M153.42,426.20 L138.64,420.08 A16.00,16.00 0 0 1 147.30,411.42 Z" fill="#e0a928" stroke="#bbb3a2" stroke-width="0.9" stroke-linejoin="round"/>
<path d="M186.10,426.20 L184.57,422.50 A4.00,4.00 0 0 1 187.63,422.50 Z" fill="#fdf8e9" stroke="#bbb3a2" stroke-width="0.9" stroke-linejoin="round"/>
<path d="M186.10,426.20 L187.25,423.43 A3.00,3.00 0 0 1 188.87,425.05 Z" fill="#fdf8e9" stroke="#bbb3a2" stroke-width="0.9" stroke-linejoin="round"/>
<path d="M186.10,426.20 L180.74,439.13 A14.00,14.00 0 0 1 173.17,431.56 Z" fill="#f5db96" stroke="#bbb3a2" stroke-width="0.9" stroke-linejoin="round"/>
<path d="M186.10,426.20 L170.95,432.48 A16.40,16.40 0 0 1 170.95,419.92 Z" fill="#f2d280" stroke="#bbb3a2" stroke-width="0.9" stroke-linejoin="round"/>
<path d="M186.10,426.20 L173.44,420.96 A13.70,13.70 0 0 1 180.86,413.54 Z" fill="#f6dd9e" stroke="#bbb3a2" stroke-width="0.9" stroke-linejoin="round"/>
<path d="M218.78,426.20 L221.55,425.05 A3.00,3.00 0 0 1 221.55,427.35 Z" fill="#fdf8e9" stroke="#bbb3a2" stroke-width="0.9" stroke-linejoin="round"/>
<path d="M218.78,426.20 L222.48,427.73 A4.00,4.00 0 0 1 220.31,429.90 Z" fill="#fdf8e9" stroke="#bbb3a2" stroke-width="0.9" stroke-linejoin="round"/>
<path d="M218.78,426.20 L219.93,428.97 A3.00,3.00 0 0 1 217.63,428.97 Z" fill="#fdf8e9" stroke="#bbb3a2" stroke-width="0.9" stroke-linejoin="round"/>
<path d="M218.78,426.20 L204.00,420.08 A16.00,16.00 0 0 1 212.66,411.42 Z" fill="#e3ae2e" stroke="#bbb3a2" stroke-width="0.9" stroke-linejoin="round"/>
<path d="M251.46,426.20 L245.53,411.88 A15.50,15.50 0 0 1 257.39,411.88 Z" fill="#f2d280" stroke="#bbb3a2" stroke-width="0.9" stroke-linejoin="round"/>
<path d="M251.46,426.20 L253.37,421.58 A5.00,5.00 0 0 1 256.08,424.29 Z" fill="#fdf8e9" stroke="#bbb3a2" stroke-width="0.9" stroke-linejoin="round"/>
<path d="M251.46,426.20 L255.16,424.67 A4.00,4.00 0 0 1 255.16,427.73 Z" fill="#fdf8e9" stroke="#bbb3a2" stroke-width="0.9" stroke-linejoin="round"/>
<path d="M251.46,426.20 L254.23,427.35 A3.00,3.00 0 0 1 252.61,428.97 Z" fill="#fdf8e9" stroke="#bbb3a2" stroke-width="0.9" stroke-linejoin="round"/>
<path d="M251.46,426.20 L252.61,428.97 A3.00,3.00 0 0 1 250.31,428.97 Z" fill="#fdf8e9" stroke="#bbb3a2" stroke-width="0.9" stroke-linejoin="round"/>
<path d="M251.46,426.20 L248.69,427.35 A3.00,3.00 0 0 1 248.69,425.05 Z" fill="#fdf8e9" stroke="#bbb3a2" stroke-width="0.9" stroke-linejoin="round"/>
<path d="M251.46,426.20 L236.68,420.08 A16.00,16.00 0 0 1 245.34,411.42 Z" fill="#f0cb6c" stroke="#bbb3a2" stroke-width="0.9" stroke-linejoin="round"/>
<path d="M284.14,426.20 L278.21,411.88 A15.50,15.50 0 0 1 290.07,411.88 Z" fill="#f6dd9e" stroke="#bbb3a2" stroke-width="0.9" stroke-linejoin="round"/>
<path d="M284.14,426.20 L290.07,411.88 A15.50,15.50 0 0 1 298.46,420.27 Z" fill="#f4d991" stroke="#bbb3a2" stroke-width="0.9" stroke-linejoin="round"/>
<path d="M284.14,426.20 L292.45,422.76 A9.00,9.00 0 0 1 292.45,429.64 Z" fill="#fbf2d7" stroke="#bbb3a2" stroke-width="0.9" stroke-linejoin="round"/>
<path d="M284.14,426.20 L289.68,428.50 A6.00,6.00 0 0 1 286.44,431.74 Z" fill="#fdf8e9" stroke="#bbb3a2" stroke-width="0.9" stroke-linejoin="round"/>
<path d="M284.14,426.20 L286.44,431.74 A6.00,6.00 0 0 1 281.84,431.74 Z" fill="#fdf8e9" stroke="#bbb3a2" stroke-width="0.9" stroke-linejoin="round"/>
<path d="M284.14,426.20 L281.46,432.67 A7.00,7.00 0 0 1 277.67,428.88 Z" fill="#fdf8e9" stroke="#bbb3a2" stroke-width="0.9" stroke-linejoin="round"/>
<path d="M284.14,426.20 L275.83,429.64 A9.00,9.00 0 0 1 275.83,422.76 Z" fill="#fbf2d7" stroke="#bbb3a2" stroke-width="0.9" stroke-linejoin="round"/>
<path d="M284.14,426.20 L273.98,421.99 A11.00,11.00 0 0 1 279.93,416.04 Z" fill="#faecc8" stroke="#bbb3a2" stroke-width="0.9" stroke-linejoin="round"/>
<path d="M316.82,426.20 L311.65,413.73 A13.50,13.50 0 0 1 321.99,413.73 Z" fill="#f4d991" stroke="#bbb3a2" stroke-width="0.9" stroke-linejoin="round"/>
<path d="M316.82,426.20 L322.94,411.42 A16.00,16.00 0 0 1 331.60,420.08 Z" fill="#f1d078" stroke="#bbb3a2" stroke-width="0.9" stroke-linejoin="round"/>
<path d="M316.82,426.20 L323.29,423.52 A7.00,7.00 0 0 1 323.29,428.88 Z" fill="#fdf8e9" stroke="#bbb3a2" stroke-width="0.9" stroke-linejoin="round"/>
<path d="M316.82,426.20 L321.44,428.11 A5.00,5.00 0 0 1 318.73,430.82 Z" fill="#fdf8e9" stroke="#bbb3a2" stroke-width="0.9" stroke-linejoin="round"/>
<path d="M316.82,426.20 L318.54,430.36 A4.50,4.50 0 0 1 315.10,430.36 Z" fill="#fdf8e9" stroke="#bbb3a2" stroke-width="0.9" stroke-linejoin="round"/>
<path d="M316.82,426.20 L313.38,434.51 A9.00,9.00 0 0 1 308.51,429.64 Z" fill="#fdf8e9" stroke="#bbb3a2" stroke-width="0.9" stroke-linejoin="round"/>
<path d="M316.82,426.20 L310.81,428.69 A6.50,6.50 0 0 1 310.81,423.71 Z" fill="#fdf8e9" stroke="#bbb3a2" stroke-width="0.9" stroke-linejoin="round"/>
<path d="M316.82,426.20 L309.89,423.33 A7.50,7.50 0 0 1 313.95,419.27 Z" fill="#fdf8e9" stroke="#bbb3a2" stroke-width="0.9" stroke-linejoin="round"/>
<path d="M349.50,426.20 L344.68,414.56 A12.60,12.60 0 0 1 354.32,414.56 Z" fill="#faecc8" stroke="#bbb3a2" stroke-width="0.9" stroke-linejoin="round"/>
<path d="M349.50,426.20 L355.43,411.88 A15.50,15.50 0 0 1 363.82,420.27 Z" fill="#f4d991" stroke="#bbb3a2" stroke-width="0.9" stroke-linejoin="round"/>
<path d="M349.50,426.20 L360.03,421.84 A11.40,11.40 0 0 1 360.03,430.56 Z" fill="#faecc8" stroke="#bbb3a2" stroke-width="0.9" stroke-linejoin="round"/>
<path d="M349.50,426.20 L358.74,430.03 A10.00,10.00 0 0 1 353.33,435.44 Z" fill="#fbf0d1" stroke="#bbb3a2" stroke-width="0.9" stroke-linejoin="round"/>
<path d="M349.50,426.20 L353.71,436.36 A11.00,11.00 0 0 1 345.29,436.36 Z" fill="#faecc8" stroke="#bbb3a2" stroke-width="0.9" stroke-linejoin="round"/>
<path d="M349.50,426.20 L345.18,436.64 A11.30,11.30 0 0 1 339.06,430.52 Z" fill="#f9e9bf" stroke="#bbb3a2" stroke-width="0.9" stroke-linejoin="round"/>
<path d="M349.50,426.20 L343.31,428.76 A6.70,6.70 0 0 1 343.31,423.64 Z" fill="#fdf8e9" stroke="#bbb3a2" stroke-width="0.9" stroke-linejoin="round"/>
<path d="M349.50,426.20 L341.19,422.76 A9.00,9.00 0 0 1 346.06,417.89 Z" fill="#fcf4dd" stroke="#bbb3a2" stroke-width="0.9" stroke-linejoin="round"/>
<path d="M382.18,426.20 L378.01,416.13 A10.90,10.90 0 0 1 386.35,416.13 Z" fill="#faecc8" stroke="#bbb3a2" stroke-width="0.9" stroke-linejoin="round"/>
<path d="M382.18,426.20 L388.11,411.88 A15.50,15.50 0 0 1 396.50,420.27 Z" fill="#f4d991" stroke="#bbb3a2" stroke-width="0.9" stroke-linejoin="round"/>
<path d="M382.18,426.20 L391.42,422.37 A10.00,10.00 0 0 1 391.42,430.03 Z" fill="#fbf0d1" stroke="#bbb3a2" stroke-width="0.9" stroke-linejoin="round"/>
<path d="M382.18,426.20 L390.49,429.64 A9.00,9.00 0 0 1 385.62,434.51 Z" fill="#fbf2d7" stroke="#bbb3a2" stroke-width="0.9" stroke-linejoin="round"/>
<path d="M382.18,426.20 L386.12,435.72 A10.30,10.30 0 0 1 378.24,435.72 Z" fill="#faecc8" stroke="#bbb3a2" stroke-width="0.9" stroke-linejoin="round"/>
<path d="M382.18,426.20 L376.86,439.04 A13.90,13.90 0 0 1 369.34,431.52 Z" fill="#f7e2aa" stroke="#bbb3a2" stroke-width="0.9" stroke-linejoin="round"/>
<path d="M382.18,426.20 L372.29,430.29 A10.70,10.70 0 0 1 372.29,422.11 Z" fill="#faecc8" stroke="#bbb3a2" stroke-width="0.9" stroke-linejoin="round"/>
<path d="M382.18,426.20 L375.71,423.52 A7.00,7.00 0 0 1 379.50,419.73 Z" fill="#fdf8e9" stroke="#bbb3a2" stroke-width="0.9" stroke-linejoin="round"/>
<path d="M414.86,426.20 L411.15,417.24 A9.70,9.70 0 0 1 418.57,417.24 Z" fill="#fbf2d7" stroke="#bbb3a2" stroke-width="0.9" stroke-linejoin="round"/>
<path d="M414.86,426.20 L420.52,412.53 A14.80,14.80 0 0 1 428.53,420.54 Z" fill="#f7e2aa" stroke="#bbb3a2" stroke-width="0.9" stroke-linejoin="round"/>
<path d="M414.86,426.20 L430.01,419.92 A16.40,16.40 0 0 1 430.01,432.48 Z" fill="#f4d991" stroke="#bbb3a2" stroke-width="0.9" stroke-linejoin="round"/>
<path d="M414.86,426.20 L425.02,430.41 A11.00,11.00 0 0 1 419.07,436.36 Z" fill="#faecc8" stroke="#bbb3a2" stroke-width="0.9" stroke-linejoin="round"/>
<path d="M414.86,426.20 L419.07,436.36 A11.00,11.00 0 0 1 410.65,436.36 Z" fill="#faecc8" stroke="#bbb3a2" stroke-width="0.9" stroke-linejoin="round"/>
<path d="M414.86,426.20 L410.27,437.29 A12.00,12.00 0 0 1 403.77,430.79 Z" fill="#f9e9bf" stroke="#bbb3a2" stroke-width="0.9" stroke-linejoin="round"/>
<path d="M414.86,426.20 L404.33,430.56 A11.40,11.40 0 0 1 404.33,421.84 Z" fill="#faecc8" stroke="#bbb3a2" stroke-width="0.9" stroke-linejoin="round"/>
<path d="M414.86,426.20 L406.55,422.76 A9.00,9.00 0 0 1 411.42,417.89 Z" fill="#fbf2d7" stroke="#bbb3a2" stroke-width="0.9" stroke-linejoin="round"/>
<path d="M447.54,426.20 L444.67,419.27 A7.50,7.50 0 0 1 450.41,419.27 Z" fill="#fdf8e9" stroke="#bbb3a2" stroke-width="0.9" stroke-linejoin="round"/>
<path d="M447.54,426.20 L450.98,417.89 A9.00,9.00 0 0 1 455.85,422.76 Z" fill="#fbf2d7" stroke="#bbb3a2" stroke-width="0.9" stroke-linejoin="round"/>
<path d="M447.54,426.20 L462.32,420.08 A16.00,16.00 0 0 1 462.32,432.32 Z" fill="#f2d280" stroke="#bbb3a2" stroke-width="0.9" stroke-linejoin="round"/>
<path d="M447.54,426.20 L456.78,430.03 A10.00,10.00 0 0 1 451.37,435.44 Z" fill="#fbf0d1" stroke="#bbb3a2" stroke-width="0.9" stroke-linejoin="round"/>
<path d="M447.54,426.20 L451.37,435.44 A10.00,10.00 0 0 1 443.71,435.44 Z" fill="#faecc8" stroke="#bbb3a2" stroke-width="0.9" stroke-linejoin="round"/>
<path d="M447.54,426.20 L444.48,433.59 A8.00,8.00 0 0 1 440.15,429.26 Z" fill="#fbf2d7" stroke="#bbb3a2" stroke-width="0.9" stroke-linejoin="round"/>
<path d="M447.54,426.20 L442.27,428.38 A5.70,5.70 0 0 1 442.27,424.02 Z" fill="#fdf8e9" stroke="#bbb3a2" stroke-width="0.9" stroke-linejoin="round"/>
<path d="M447.54,426.20 L442.00,423.90 A6.00,6.00 0 0 1 445.24,420.66 Z" fill="#fdf8e9" stroke="#bbb3a2" stroke-width="0.9" stroke-linejoin="round"/>
<path d="M480.22,426.20 L476.97,418.35 A8.50,8.50 0 0 1 483.47,418.35 Z" fill="#fcf4dd" stroke="#bbb3a2" stroke-width="0.9" stroke-linejoin="round"/>
<path d="M480.22,426.20 L484.05,416.96 A10.00,10.00 0 0 1 489.46,422.37 Z" fill="#fbf0d1" stroke="#bbb3a2" stroke-width="0.9" stroke-linejoin="round"/>
<path d="M480.22,426.20 L495.00,420.08 A16.00,16.00 0 0 1 495.00,432.32 Z" fill="#f2d280" stroke="#bbb3a2" stroke-width="0.9" stroke-linejoin="round"/>
<path d="M480.22,426.20 L491.31,430.79 A12.00,12.00 0 0 1 484.81,437.29 Z" fill="#faecc8" stroke="#bbb3a2" stroke-width="0.9" stroke-linejoin="round"/>
<path d="M480.22,426.20 L484.05,435.44 A10.00,10.00 0 0 1 476.39,435.44 Z" fill="#fbf0d1" stroke="#bbb3a2" stroke-width="0.9" stroke-linejoin="round"/>
<path d="M480.22,426.20 L476.01,436.36 A11.00,11.00 0 0 1 470.06,430.41 Z" fill="#faecc8" stroke="#bbb3a2" stroke-width="0.9" stroke-linejoin="round"/>
<path d="M480.22,426.20 L472.92,429.22 A7.90,7.90 0 0 1 472.92,423.18 Z" fill="#fcf4dd" stroke="#bbb3a2" stroke-width="0.9" stroke-linejoin="round"/>
<path d="M480.22,426.20 L474.68,423.90 A6.00,6.00 0 0 1 477.92,420.66 Z" fill="#fdf8e9" stroke="#bbb3a2" stroke-width="0.9" stroke-linejoin="round"/>
<path d="M512.90,426.20 L509.61,418.25 A8.60,8.60 0 0 1 516.19,418.25 Z" fill="#fcf4dd" stroke="#bbb3a2" stroke-width="0.9" stroke-linejoin="round"/>
<path d="M512.90,426.20 L518.53,412.62 A14.70,14.70 0 0 1 526.48,420.57 Z" fill="#f7e2aa" stroke="#bbb3a2" stroke-width="0.9" stroke-linejoin="round"/>
<path d="M512.90,426.20 L527.40,420.19 A15.70,15.70 0 0 1 527.40,432.21 Z" fill="#f5dc99" stroke="#bbb3a2" stroke-width="0.9" stroke-linejoin="round"/>
<path d="M512.90,426.20 L525.83,431.56 A14.00,14.00 0 0 1 518.26,439.13 Z" fill="#f8e5b3" stroke="#bbb3a2" stroke-width="0.9" stroke-linejoin="round"/>
<path d="M512.90,426.20 L518.22,439.04 A13.90,13.90 0 0 1 507.58,439.04 Z" fill="#f8e5b3" stroke="#bbb3a2" stroke-width="0.9" stroke-linejoin="round"/>
<path d="M512.90,426.20 L507.93,438.21 A13.00,13.00 0 0 1 500.89,431.17 Z" fill="#f8e7b9" stroke="#bbb3a2" stroke-width="0.9" stroke-linejoin="round"/>
<path d="M512.90,426.20 L503.66,430.03 A10.00,10.00 0 0 1 503.66,422.37 Z" fill="#fbf0d1" stroke="#bbb3a2" stroke-width="0.9" stroke-linejoin="round"/>
<path d="M512.90,426.20 L507.36,423.90 A6.00,6.00 0 0 1 510.60,420.66 Z" fill="#fdf8e9" stroke="#bbb3a2" stroke-width="0.9" stroke-linejoin="round"/>
<path d="M545.58,426.20 L542.14,417.89 A9.00,9.00 0 0 1 549.02,417.89 Z" fill="#fcf4dd" stroke="#bbb3a2" stroke-width="0.9" stroke-linejoin="round"/>
<path d="M545.58,426.20 L550.17,415.11 A12.00,12.00 0 0 1 556.67,421.61 Z" fill="#f9e9bf" stroke="#bbb3a2" stroke-width="0.9" stroke-linejoin="round"/>
<path d="M545.58,426.20 L560.73,419.92 A16.40,16.40 0 0 1 560.73,432.48 Z" fill="#f4d88f" stroke="#bbb3a2" stroke-width="0.9" stroke-linejoin="round"/>
<path d="M545.58,426.20 L554.82,430.03 A10.00,10.00 0 0 1 549.41,435.44 Z" fill="#fbf0d1" stroke="#bbb3a2" stroke-width="0.9" stroke-linejoin="round"/>
<path d="M545.58,426.20 L550.17,437.29 A12.00,12.00 0 0 1 540.99,437.29 Z" fill="#faecc8" stroke="#bbb3a2" stroke-width="0.9" stroke-linejoin="round"/>
<path d="M545.58,426.20 L541.75,435.44 A10.00,10.00 0 0 1 536.34,430.03 Z" fill="#fbf0d1" stroke="#bbb3a2" stroke-width="0.9" stroke-linejoin="round"/>
<path d="M545.58,426.20 L538.28,429.22 A7.90,7.90 0 0 1 538.28,423.18 Z" fill="#fcf4dd" stroke="#bbb3a2" stroke-width="0.9" stroke-linejoin="round"/>
<path d="M545.58,426.20 L540.04,423.90 A6.00,6.00 0 0 1 543.28,420.66 Z" fill="#fdf8e9" stroke="#bbb3a2" stroke-width="0.9" stroke-linejoin="round"/>
<path d="M578.26,426.20 L574.82,417.89 A9.00,9.00 0 0 1 581.70,417.89 Z" fill="#fcf4dd" stroke="#bbb3a2" stroke-width="0.9" stroke-linejoin="round"/>
<path d="M578.26,426.20 L583.23,414.19 A13.00,13.00 0 0 1 590.27,421.23 Z" fill="#f8e5b3" stroke="#bbb3a2" stroke-width="0.9" stroke-linejoin="round"/>
<path d="M578.26,426.20 L593.41,419.92 A16.40,16.40 0 0 1 593.41,432.48 Z" fill="#f3d68a" stroke="#bbb3a2" stroke-width="0.9" stroke-linejoin="round"/>
<path d="M578.26,426.20 L588.42,430.41 A11.00,11.00 0 0 1 582.47,436.36 Z" fill="#faecc8" stroke="#bbb3a2" stroke-width="0.9" stroke-linejoin="round"/>
<path d="M578.26,426.20 L582.47,436.36 A11.00,11.00 0 0 1 574.05,436.36 Z" fill="#faecc8" stroke="#bbb3a2" stroke-width="0.9" stroke-linejoin="round"/>
<path d="M578.26,426.20 L574.05,436.36 A11.00,11.00 0 0 1 568.10,430.41 Z" fill="#faecc8" stroke="#bbb3a2" stroke-width="0.9" stroke-linejoin="round"/>
<path d="M578.26,426.20 L569.67,429.76 A9.30,9.30 0 0 1 569.67,422.64 Z" fill="#fbf2d7" stroke="#bbb3a2" stroke-width="0.9" stroke-linejoin="round"/>
<path d="M578.26,426.20 L572.72,423.90 A6.00,6.00 0 0 1 575.96,420.66 Z" fill="#fdf8e9" stroke="#bbb3a2" stroke-width="0.9" stroke-linejoin="round"/>
</g>
<line x1="104.4" y1="418.42" x2="594.60" y2="418.42" stroke="#bdbdbd" stroke-width="0.9" stroke-dasharray="1,1.5" opacity="0.8"/>
<line x1="104.4" y1="426.45" x2="594.60" y2="426.45" stroke="#bdbdbd" stroke-width="0.9" stroke-dasharray="1,1.5" opacity="0.8"/>
<line x1="104.4" y1="434.48" x2="594.60" y2="434.48" stroke="#bdbdbd" stroke-width="0.9" stroke-dasharray="1,1.5" opacity="0.8"/>
<line x1="104.4" y1="410.40" x2="594.60" y2="410.40" stroke="#c4b8a4" stroke-width="1.2" style="mix-blend-mode:multiply"/>
<line x1="594.60" y1="410.40" x2="594.60" y2="442.50" stroke="#c2b7a2" stroke-width="1.1"/>
<line x1="104.4" y1="410.40" x2="104.4" y2="442.50" stroke="#5b554a" stroke-width="1.3" stroke-linecap="round"/>
<line x1="103.80000000000001" y1="442.50" x2="595.20" y2="442.50" stroke="#5b554a" stroke-width="1.6"/>
<line x1="112.57" y1="442.50" x2="112.57" y2="446.20" stroke="#8c867b" stroke-width="0.9"/>
<line x1="120.74" y1="442.50" x2="120.74" y2="446.20" stroke="#8c867b" stroke-width="0.9"/>
<line x1="128.91" y1="442.50" x2="128.91" y2="446.20" stroke="#8c867b" stroke-width="0.9"/>
<line x1="137.08" y1="442.50" x2="137.08" y2="447.90" stroke="#5b554a" stroke-width="1.3"/>
<line x1="145.25" y1="442.50" x2="145.25" y2="446.20" stroke="#8c867b" stroke-width="0.9"/>
<line x1="153.42" y1="442.50" x2="153.42" y2="446.20" stroke="#8c867b" stroke-width="0.9"/>
<line x1="161.59" y1="442.50" x2="161.59" y2="446.20" stroke="#8c867b" stroke-width="0.9"/>
<line x1="169.76" y1="442.50" x2="169.76" y2="447.90" stroke="#5b554a" stroke-width="1.3"/>
<line x1="177.93" y1="442.50" x2="177.93" y2="446.20" stroke="#8c867b" stroke-width="0.9"/>
<line x1="186.10" y1="442.50" x2="186.10" y2="446.20" stroke="#8c867b" stroke-width="0.9"/>
<line x1="194.27" y1="442.50" x2="194.27" y2="446.20" stroke="#8c867b" stroke-width="0.9"/>
<line x1="202.44" y1="442.50" x2="202.44" y2="447.90" stroke="#5b554a" stroke-width="1.3"/>
<line x1="210.61" y1="442.50" x2="210.61" y2="446.20" stroke="#8c867b" stroke-width="0.9"/>
<line x1="218.78" y1="442.50" x2="218.78" y2="446.20" stroke="#8c867b" stroke-width="0.9"/>
<line x1="226.95" y1="442.50" x2="226.95" y2="446.20" stroke="#8c867b" stroke-width="0.9"/>
<line x1="235.12" y1="442.50" x2="235.12" y2="447.90" stroke="#5b554a" stroke-width="1.3"/>
<line x1="243.29" y1="442.50" x2="243.29" y2="446.20" stroke="#8c867b" stroke-width="0.9"/>
<line x1="251.46" y1="442.50" x2="251.46" y2="446.20" stroke="#8c867b" stroke-width="0.9"/>
<line x1="259.63" y1="442.50" x2="259.63" y2="446.20" stroke="#8c867b" stroke-width="0.9"/>
<line x1="267.80" y1="442.50" x2="267.80" y2="447.90" stroke="#5b554a" stroke-width="1.3"/>
<line x1="275.97" y1="442.50" x2="275.97" y2="446.20" stroke="#8c867b" stroke-width="0.9"/>
<line x1="284.14" y1="442.50" x2="284.14" y2="446.20" stroke="#8c867b" stroke-width="0.9"/>
<line x1="292.31" y1="442.50" x2="292.31" y2="446.20" stroke="#8c867b" stroke-width="0.9"/>
<line x1="300.48" y1="442.50" x2="300.48" y2="447.90" stroke="#5b554a" stroke-width="1.3"/>
<line x1="308.65" y1="442.50" x2="308.65" y2="446.20" stroke="#8c867b" stroke-width="0.9"/>
<line x1="316.82" y1="442.50" x2="316.82" y2="446.20" stroke="#8c867b" stroke-width="0.9"/>
<line x1="324.99" y1="442.50" x2="324.99" y2="446.20" stroke="#8c867b" stroke-width="0.9"/>
<line x1="333.16" y1="442.50" x2="333.16" y2="447.90" stroke="#5b554a" stroke-width="1.3"/>
<line x1="341.33" y1="442.50" x2="341.33" y2="446.20" stroke="#8c867b" stroke-width="0.9"/>
<line x1="349.50" y1="442.50" x2="349.50" y2="446.20" stroke="#8c867b" stroke-width="0.9"/>
<line x1="357.67" y1="442.50" x2="357.67" y2="446.20" stroke="#8c867b" stroke-width="0.9"/>
<line x1="365.84" y1="442.50" x2="365.84" y2="447.90" stroke="#5b554a" stroke-width="1.3"/>
<line x1="374.01" y1="442.50" x2="374.01" y2="446.20" stroke="#8c867b" stroke-width="0.9"/>
<line x1="382.18" y1="442.50" x2="382.18" y2="446.20" stroke="#8c867b" stroke-width="0.9"/>
<line x1="390.35" y1="442.50" x2="390.35" y2="446.20" stroke="#8c867b" stroke-width="0.9"/>
<line x1="398.52" y1="442.50" x2="398.52" y2="447.90" stroke="#5b554a" stroke-width="1.3"/>
<line x1="406.69" y1="442.50" x2="406.69" y2="446.20" stroke="#8c867b" stroke-width="0.9"/>
<line x1="414.86" y1="442.50" x2="414.86" y2="446.20" stroke="#8c867b" stroke-width="0.9"/>
<line x1="423.03" y1="442.50" x2="423.03" y2="446.20" stroke="#8c867b" stroke-width="0.9"/>
<line x1="431.20" y1="442.50" x2="431.20" y2="447.90" stroke="#5b554a" stroke-width="1.3"/>
<line x1="439.37" y1="442.50" x2="439.37" y2="446.20" stroke="#8c867b" stroke-width="0.9"/>
<line x1="447.54" y1="442.50" x2="447.54" y2="446.20" stroke="#8c867b" stroke-width="0.9"/>
<line x1="455.71" y1="442.50" x2="455.71" y2="446.20" stroke="#8c867b" stroke-width="0.9"/>
<line x1="463.88" y1="442.50" x2="463.88" y2="447.90" stroke="#5b554a" stroke-width="1.3"/>
<line x1="472.05" y1="442.50" x2="472.05" y2="446.20" stroke="#8c867b" stroke-width="0.9"/>
<line x1="480.22" y1="442.50" x2="480.22" y2="446.20" stroke="#8c867b" stroke-width="0.9"/>
<line x1="488.39" y1="442.50" x2="488.39" y2="446.20" stroke="#8c867b" stroke-width="0.9"/>
<line x1="496.56" y1="442.50" x2="496.56" y2="447.90" stroke="#5b554a" stroke-width="1.3"/>
<line x1="504.73" y1="442.50" x2="504.73" y2="446.20" stroke="#8c867b" stroke-width="0.9"/>
<line x1="512.90" y1="442.50" x2="512.90" y2="446.20" stroke="#8c867b" stroke-width="0.9"/>
<line x1="521.07" y1="442.50" x2="521.07" y2="446.20" stroke="#8c867b" stroke-width="0.9"/>
<line x1="529.24" y1="442.50" x2="529.24" y2="447.90" stroke="#5b554a" stroke-width="1.3"/>
<line x1="537.41" y1="442.50" x2="537.41" y2="446.20" stroke="#8c867b" stroke-width="0.9"/>
<line x1="545.58" y1="442.50" x2="545.58" y2="446.20" stroke="#8c867b" stroke-width="0.9"/>
<line x1="553.75" y1="442.50" x2="553.75" y2="446.20" stroke="#8c867b" stroke-width="0.9"/>
<line x1="561.92" y1="442.50" x2="561.92" y2="447.90" stroke="#5b554a" stroke-width="1.3"/>
<line x1="570.09" y1="442.50" x2="570.09" y2="446.20" stroke="#8c867b" stroke-width="0.9"/>
<line x1="578.26" y1="442.50" x2="578.26" y2="446.20" stroke="#8c867b" stroke-width="0.9"/>
<line x1="586.43" y1="442.50" x2="586.43" y2="446.20" stroke="#8c867b" stroke-width="0.9"/>
<line x1="594.60" y1="442.50" x2="594.60" y2="447.90" stroke="#5b554a" stroke-width="1.3"/>
<text x="90.30" y="408.60" font-size="10.05" fill="#3a3a3a" text-anchor="start" >Daily Distribution of 10m Wind Direction</text>
<defs><linearGradient id="g403" x1="0" x2="1"><stop offset="0" stop-color="#fefcf5"/><stop offset="0.25" stop-color="#f7e2aa"/><stop offset="0.5" stop-color="#f0cb6c"/><stop offset="0.75" stop-color="#e7b63c"/><stop offset="1.0" stop-color="#dca11a"/></linearGradient></defs>
<rect x="470.3" y="403.7" width="104.80" height="3.6" rx="1.2" fill="url(#g403)" stroke="#d9c48a" stroke-width="0.5"/>
<text x="474.7" y="401.40" font-size="5.6" fill="#555" text-anchor="middle">0%</text>
<text x="499.9" y="401.40" font-size="5.6" fill="#555" text-anchor="middle">25%</text>
<text x="522.8" y="401.40" font-size="5.6" fill="#555" text-anchor="middle">50%</text>
<text x="545.8" y="401.40" font-size="5.6" fill="#555" text-anchor="middle">75%</text>
<text x="570.5" y="401.40" font-size="5.6" fill="#555" text-anchor="middle">100%</text>
<line x1="137.08" y1="467.80" x2="137.08" y2="552.40" stroke="#c6c6c6" stroke-width="1" stroke-dasharray="1,1.5"/>
<line x1="169.76" y1="467.80" x2="169.76" y2="552.40" stroke="#c6c6c6" stroke-width="1" stroke-dasharray="1,1.5"/>
<line x1="202.44" y1="467.80" x2="202.44" y2="552.40" stroke="#c6c6c6" stroke-width="1" stroke-dasharray="1,1.5"/>
<line x1="235.12" y1="467.80" x2="235.12" y2="552.40" stroke="#c6c6c6" stroke-width="1" stroke-dasharray="1,1.5"/>
<line x1="267.80" y1="467.80" x2="267.80" y2="552.40" stroke="#c6c6c6" stroke-width="1" stroke-dasharray="1,1.5"/>
<line x1="300.48" y1="467.80" x2="300.48" y2="552.40" stroke="#c6c6c6" stroke-width="1" stroke-dasharray="1,1.5"/>
<line x1="333.16" y1="467.80" x2="333.16" y2="552.40" stroke="#c6c6c6" stroke-width="1" stroke-dasharray="1,1.5"/>
<line x1="365.84" y1="467.80" x2="365.84" y2="552.40" stroke="#c6c6c6" stroke-width="1" stroke-dasharray="1,1.5"/>
<line x1="398.52" y1="467.80" x2="398.52" y2="552.40" stroke="#c6c6c6" stroke-width="1" stroke-dasharray="1,1.5"/>
<line x1="431.20" y1="467.80" x2="431.20" y2="552.40" stroke="#c6c6c6" stroke-width="1" stroke-dasharray="1,1.5"/>
<line x1="463.88" y1="467.80" x2="463.88" y2="552.40" stroke="#c6c6c6" stroke-width="1" stroke-dasharray="1,1.5"/>
<line x1="496.56" y1="467.80" x2="496.56" y2="552.40" stroke="#c6c6c6" stroke-width="1" stroke-dasharray="1,1.5"/>
<line x1="529.24" y1="467.80" x2="529.24" y2="552.40" stroke="#c6c6c6" stroke-width="1" stroke-dasharray="1,1.5"/>
<line x1="561.92" y1="467.80" x2="561.92" y2="552.40" stroke="#c6c6c6" stroke-width="1" stroke-dasharray="1,1.5"/>
<clipPath id="c5"><rect x="104.4" y="467.8" width="490.20" height="84.59999999999997"/></clipPath>
<g clip-path="url(#c5)">
<polygon points="119.94,517.18 153.42,518.17 186.10,518.61 218.78,518.61 251.46,519.16 284.14,519.26 316.82,519.26 349.50,519.26 382.18,519.65 414.86,519.65 447.54,519.65 480.22,519.65 512.90,519.90 545.58,520.00 578.86,520.00 578.86,545.69 545.58,545.69 512.90,545.69 480.22,545.69 447.54,545.69 414.86,545.83 382.18,545.83 349.50,545.98 316.82,545.98 284.14,545.98 251.46,545.83 218.78,545.69 186.10,545.69 153.42,545.83 119.94,545.83" fill="#fbeac4"/>
<polygon points="119.94,526.57 153.42,526.57 186.10,526.42 218.78,526.42 251.46,526.81 284.14,527.06 316.82,527.06 349.50,527.06 382.18,527.06 414.86,527.06 447.54,527.06 480.22,527.06 512.90,527.06 545.58,527.06 578.86,527.06 578.86,541.39 545.58,541.39 512.90,541.39 480.22,541.39 447.54,541.39 414.86,541.63 382.18,541.63 349.50,541.88 316.82,541.88 284.14,541.88 251.46,541.63 218.78,541.39 186.10,541.39 153.42,541.39 119.94,541.39" fill="#f2d48a"/>
</g>
<line x1="104.4" y1="540.40" x2="594.60" y2="540.40" stroke="#c6c6c6" stroke-width="1" stroke-dasharray="1,1.5" opacity="0.85"/>
<line x1="104.4" y1="525.58" x2="594.60" y2="525.58" stroke="#c6c6c6" stroke-width="1" stroke-dasharray="1,1.5" opacity="0.85"/>
<line x1="104.4" y1="510.76" x2="594.60" y2="510.76" stroke="#c6c6c6" stroke-width="1" stroke-dasharray="1,1.5" opacity="0.85"/>
<line x1="104.4" y1="495.94" x2="594.60" y2="495.94" stroke="#c6c6c6" stroke-width="1" stroke-dasharray="1,1.5" opacity="0.85"/>
<line x1="104.4" y1="481.12" x2="594.60" y2="481.12" stroke="#c6c6c6" stroke-width="1" stroke-dasharray="1,1.5" opacity="0.85"/>
<g clip-path="url(#c5)">
<polyline points="120.74,534.27 153.42,534.47 186.10,535.02 218.78,535.02 251.46,535.02 284.14,535.02 316.82,535.02 349.50,535.02 382.18,535.02 414.86,535.02 447.54,535.02 480.22,535.02 512.90,535.02 545.58,535.02 578.26,535.02" fill="none" stroke="#c99812" stroke-width="2" stroke-linejoin="round"/>
<polyline points="120.74,502.86 153.42,500.88 186.10,500.68 218.78,499.99 251.46,505.33 284.14,505.82 316.82,507.55 349.50,505.82 382.18,507.55 414.86,507.55 447.54,504.63 480.22,504.63 512.90,507.10 545.58,503.35 578.26,505.33" fill="none" stroke="#c99a1e" stroke-width="1.0" stroke-linejoin="round"/>
<polyline points="120.74,548.60 153.42,548.50 186.10,548.60 218.78,548.80 251.46,549.04 284.14,549.29 316.82,549.29 349.50,549.29 382.18,549.04 414.86,549.04 447.54,548.80 480.22,548.55 512.90,548.40 545.58,548.30 578.26,548.30" fill="none" stroke="#c99a1e" stroke-width="1.0" stroke-linejoin="round"/>
</g>
<line x1="120.74" y1="525.58" x2="120.74" y2="536.69" stroke="#444" stroke-width="1"/>
<rect x="118.54" y="526.32" width="4.4" height="9.39" fill="#d29c1e" stroke="#333" stroke-width="1.1" rx="0.6"/>
<rect x="116.64" y="528.05" width="8.2" height="6.22" fill="#d29c1e" stroke="#333" stroke-width="1.1" rx="0.6"/>
<line x1="116.64" y1="531.01" x2="124.84" y2="531.01" stroke="#7a5a10" stroke-width="1"/>
<line x1="153.42" y1="515.21" x2="153.42" y2="535.71" stroke="#444" stroke-width="1"/>
<rect x="151.22" y="521.63" width="4.4" height="10.87" fill="#d29c1e" stroke="#333" stroke-width="1.1" rx="0.6"/>
<rect x="149.32" y="523.36" width="8.2" height="8.35" fill="#d29c1e" stroke="#333" stroke-width="1.1" rx="0.6"/>
<line x1="149.32" y1="528.89" x2="157.52" y2="528.89" stroke="#7a5a10" stroke-width="1"/>
<line x1="186.10" y1="507.89" x2="186.10" y2="537.58" stroke="#444" stroke-width="1"/>
<rect x="183.90" y="518.12" width="4.4" height="13.98" fill="#d29c1e" stroke="#333" stroke-width="1.1" rx="0.6"/>
<rect x="182.00" y="520.99" width="8.2" height="8.30" fill="#d29c1e" stroke="#333" stroke-width="1.1" rx="0.6"/>
<line x1="182.00" y1="524.99" x2="190.20" y2="524.99" stroke="#7a5a10" stroke-width="1"/>
<line x1="218.78" y1="499.99" x2="218.78" y2="536.45" stroke="#444" stroke-width="1"/>
<rect x="216.58" y="507.10" width="4.4" height="23.32" fill="#d29c1e" stroke="#333" stroke-width="1.1" rx="0.6"/>
<rect x="214.68" y="512.88" width="8.2" height="11.41" fill="#d29c1e" stroke="#333" stroke-width="1.1" rx="0.6"/>
<line x1="214.68" y1="518.61" x2="222.88" y2="518.61" stroke="#7a5a10" stroke-width="1"/>
<line x1="251.46" y1="494.95" x2="251.46" y2="540.99" stroke="#444" stroke-width="1"/>
<rect x="249.26" y="511.40" width="4.4" height="27.91" fill="#d29c1e" stroke="#333" stroke-width="1.1" rx="0.6"/>
<rect x="247.36" y="523.31" width="8.2" height="12.00" fill="#d29c1e" stroke="#333" stroke-width="1.1" rx="0.6"/>
<line x1="247.36" y1="530.72" x2="255.56" y2="530.72" stroke="#7a5a10" stroke-width="1"/>
<line x1="284.14" y1="513.87" x2="284.14" y2="549.29" stroke="#444" stroke-width="1"/>
<rect x="281.94" y="527.90" width="4.4" height="18.23" fill="#d29c1e" stroke="#333" stroke-width="1.1" rx="0.6"/>
<rect x="280.04" y="535.31" width="8.2" height="7.61" fill="#d29c1e" stroke="#333" stroke-width="1.1" rx="0.6"/>
<line x1="280.04" y1="539.31" x2="288.24" y2="539.31" stroke="#7a5a10" stroke-width="1"/>
<line x1="316.82" y1="515.01" x2="316.82" y2="549.59" stroke="#444" stroke-width="1"/>
<rect x="314.62" y="529.28" width="4.4" height="14.03" fill="#d29c1e" stroke="#333" stroke-width="1.1" rx="0.6"/>
<rect x="312.72" y="531.90" width="8.2" height="8.50" fill="#d29c1e" stroke="#333" stroke-width="1.1" rx="0.6"/>
<line x1="312.72" y1="537.09" x2="320.92" y2="537.09" stroke="#7a5a10" stroke-width="1"/>
<line x1="349.50" y1="512.88" x2="349.50" y2="550.77" stroke="#444" stroke-width="1"/>
<rect x="347.30" y="530.03" width="4.4" height="15.31" fill="#d29c1e" stroke="#333" stroke-width="1.1" rx="0.6"/>
<rect x="345.40" y="534.27" width="8.2" height="9.04" fill="#d29c1e" stroke="#333" stroke-width="1.1" rx="0.6"/>
<line x1="345.40" y1="538.57" x2="353.60" y2="538.57" stroke="#7a5a10" stroke-width="1"/>
<line x1="382.18" y1="502.36" x2="382.18" y2="549.29" stroke="#444" stroke-width="1"/>
<rect x="379.98" y="524.69" width="4.4" height="22.03" fill="#d29c1e" stroke="#333" stroke-width="1.1" rx="0.6"/>
<rect x="378.08" y="531.41" width="8.2" height="12.60" fill="#d29c1e" stroke="#333" stroke-width="1.1" rx="0.6"/>
<line x1="378.08" y1="537.88" x2="386.28" y2="537.88" stroke="#7a5a10" stroke-width="1"/>
<line x1="414.86" y1="507.60" x2="414.86" y2="549.29" stroke="#444" stroke-width="1"/>
<rect x="412.66" y="525.68" width="4.4" height="21.93" fill="#d29c1e" stroke="#333" stroke-width="1.1" rx="0.6"/>
<rect x="410.76" y="530.72" width="8.2" height="14.97" fill="#d29c1e" stroke="#333" stroke-width="1.1" rx="0.6"/>
<line x1="410.76" y1="537.09" x2="418.96" y2="537.09" stroke="#7a5a10" stroke-width="1"/>
<line x1="447.54" y1="494.70" x2="447.54" y2="548.60" stroke="#444" stroke-width="1"/>
<rect x="445.34" y="526.12" width="4.4" height="20.70" fill="#d29c1e" stroke="#333" stroke-width="1.1" rx="0.6"/>
<rect x="443.44" y="534.72" width="8.2" height="9.58" fill="#d29c1e" stroke="#333" stroke-width="1.1" rx="0.6"/>
<line x1="443.44" y1="539.31" x2="451.64" y2="539.31" stroke="#7a5a10" stroke-width="1"/>
<line x1="480.22" y1="514.32" x2="480.22" y2="549.59" stroke="#444" stroke-width="1"/>
<rect x="478.02" y="527.90" width="4.4" height="18.52" fill="#d29c1e" stroke="#333" stroke-width="1.1" rx="0.6"/>
<rect x="476.12" y="533.29" width="8.2" height="10.03" fill="#d29c1e" stroke="#333" stroke-width="1.1" rx="0.6"/>
<line x1="476.12" y1="537.88" x2="484.32" y2="537.88" stroke="#7a5a10" stroke-width="1"/>
<line x1="512.90" y1="505.42" x2="512.90" y2="548.60" stroke="#444" stroke-width="1"/>
<rect x="510.70" y="522.42" width="4.4" height="22.92" fill="#d29c1e" stroke="#333" stroke-width="1.1" rx="0.6"/>
<rect x="508.80" y="532.10" width="8.2" height="8.30" fill="#d29c1e" stroke="#333" stroke-width="1.1" rx="0.6"/>
<line x1="508.80" y1="535.31" x2="517.00" y2="535.31" stroke="#7a5a10" stroke-width="1"/>
<line x1="545.58" y1="509.57" x2="545.58" y2="547.91" stroke="#444" stroke-width="1"/>
<rect x="543.38" y="523.90" width="4.4" height="20.95" fill="#d29c1e" stroke="#333" stroke-width="1.1" rx="0.6"/>
<rect x="541.48" y="531.41" width="8.2" height="9.98" fill="#d29c1e" stroke="#333" stroke-width="1.1" rx="0.6"/>
<line x1="541.48" y1="536.45" x2="549.68" y2="536.45" stroke="#7a5a10" stroke-width="1"/>
<line x1="578.26" y1="519.01" x2="578.26" y2="548.60" stroke="#444" stroke-width="1"/>
<rect x="576.06" y="524.69" width="4.4" height="18.87" fill="#d29c1e" stroke="#333" stroke-width="1.1" rx="0.6"/>
<rect x="574.16" y="529.58" width="8.2" height="8.99" fill="#d29c1e" stroke="#333" stroke-width="1.1" rx="0.6"/>
<line x1="574.16" y1="534.27" x2="582.36" y2="534.27" stroke="#7a5a10" stroke-width="1"/>
<line x1="104.4" y1="467.80" x2="594.60" y2="467.80" stroke="#c4b8a4" stroke-width="1.2" style="mix-blend-mode:multiply"/>
<line x1="594.60" y1="467.80" x2="594.60" y2="552.40" stroke="#c2b7a2" stroke-width="1.1"/>
<line x1="104.4" y1="467.80" x2="104.4" y2="557.40" stroke="#5b554a" stroke-width="1.3" stroke-linecap="round"/>
<line x1="103.80000000000001" y1="552.40" x2="595.20" y2="552.40" stroke="#5b554a" stroke-width="1.6"/>
<line x1="104.40" y1="552.40" x2="104.40" y2="557.80" stroke="#5b554a" stroke-width="1.3"/>
<line x1="112.57" y1="552.40" x2="112.57" y2="556.10" stroke="#8c867b" stroke-width="0.9"/>
<line x1="120.74" y1="552.40" x2="120.74" y2="556.10" stroke="#8c867b" stroke-width="0.9"/>
<line x1="128.91" y1="552.40" x2="128.91" y2="556.10" stroke="#8c867b" stroke-width="0.9"/>
<line x1="137.08" y1="552.40" x2="137.08" y2="557.80" stroke="#5b554a" stroke-width="1.3"/>
<line x1="145.25" y1="552.40" x2="145.25" y2="556.10" stroke="#8c867b" stroke-width="0.9"/>
<line x1="153.42" y1="552.40" x2="153.42" y2="556.10" stroke="#8c867b" stroke-width="0.9"/>
<line x1="161.59" y1="552.40" x2="161.59" y2="556.10" stroke="#8c867b" stroke-width="0.9"/>
<line x1="169.76" y1="552.40" x2="169.76" y2="557.80" stroke="#5b554a" stroke-width="1.3"/>
<line x1="177.93" y1="552.40" x2="177.93" y2="556.10" stroke="#8c867b" stroke-width="0.9"/>
<line x1="186.10" y1="552.40" x2="186.10" y2="556.10" stroke="#8c867b" stroke-width="0.9"/>
<line x1="194.27" y1="552.40" x2="194.27" y2="556.10" stroke="#8c867b" stroke-width="0.9"/>
<line x1="202.44" y1="552.40" x2="202.44" y2="557.80" stroke="#5b554a" stroke-width="1.3"/>
<line x1="210.61" y1="552.40" x2="210.61" y2="556.10" stroke="#8c867b" stroke-width="0.9"/>
<line x1="218.78" y1="552.40" x2="218.78" y2="556.10" stroke="#8c867b" stroke-width="0.9"/>
<line x1="226.95" y1="552.40" x2="226.95" y2="556.10" stroke="#8c867b" stroke-width="0.9"/>
<line x1="235.12" y1="552.40" x2="235.12" y2="557.80" stroke="#5b554a" stroke-width="1.3"/>
<line x1="243.29" y1="552.40" x2="243.29" y2="556.10" stroke="#8c867b" stroke-width="0.9"/>
<line x1="251.46" y1="552.40" x2="251.46" y2="556.10" stroke="#8c867b" stroke-width="0.9"/>
<line x1="259.63" y1="552.40" x2="259.63" y2="556.10" stroke="#8c867b" stroke-width="0.9"/>
<line x1="267.80" y1="552.40" x2="267.80" y2="557.80" stroke="#5b554a" stroke-width="1.3"/>
<line x1="275.97" y1="552.40" x2="275.97" y2="556.10" stroke="#8c867b" stroke-width="0.9"/>
<line x1="284.14" y1="552.40" x2="284.14" y2="556.10" stroke="#8c867b" stroke-width="0.9"/>
<line x1="292.31" y1="552.40" x2="292.31" y2="556.10" stroke="#8c867b" stroke-width="0.9"/>
<line x1="300.48" y1="552.40" x2="300.48" y2="557.80" stroke="#5b554a" stroke-width="1.3"/>
<line x1="308.65" y1="552.40" x2="308.65" y2="556.10" stroke="#8c867b" stroke-width="0.9"/>
<line x1="316.82" y1="552.40" x2="316.82" y2="556.10" stroke="#8c867b" stroke-width="0.9"/>
<line x1="324.99" y1="552.40" x2="324.99" y2="556.10" stroke="#8c867b" stroke-width="0.9"/>
<line x1="333.16" y1="552.40" x2="333.16" y2="557.80" stroke="#5b554a" stroke-width="1.3"/>
<line x1="341.33" y1="552.40" x2="341.33" y2="556.10" stroke="#8c867b" stroke-width="0.9"/>
<line x1="349.50" y1="552.40" x2="349.50" y2="556.10" stroke="#8c867b" stroke-width="0.9"/>
<line x1="357.67" y1="552.40" x2="357.67" y2="556.10" stroke="#8c867b" stroke-width="0.9"/>
<line x1="365.84" y1="552.40" x2="365.84" y2="557.80" stroke="#5b554a" stroke-width="1.3"/>
<line x1="374.01" y1="552.40" x2="374.01" y2="556.10" stroke="#8c867b" stroke-width="0.9"/>
<line x1="382.18" y1="552.40" x2="382.18" y2="556.10" stroke="#8c867b" stroke-width="0.9"/>
<line x1="390.35" y1="552.40" x2="390.35" y2="556.10" stroke="#8c867b" stroke-width="0.9"/>
<line x1="398.52" y1="552.40" x2="398.52" y2="557.80" stroke="#5b554a" stroke-width="1.3"/>
<line x1="406.69" y1="552.40" x2="406.69" y2="556.10" stroke="#8c867b" stroke-width="0.9"/>
<line x1="414.86" y1="552.40" x2="414.86" y2="556.10" stroke="#8c867b" stroke-width="0.9"/>
<line x1="423.03" y1="552.40" x2="423.03" y2="556.10" stroke="#8c867b" stroke-width="0.9"/>
<line x1="431.20" y1="552.40" x2="431.20" y2="557.80" stroke="#5b554a" stroke-width="1.3"/>
<line x1="439.37" y1="552.40" x2="439.37" y2="556.10" stroke="#8c867b" stroke-width="0.9"/>
<line x1="447.54" y1="552.40" x2="447.54" y2="556.10" stroke="#8c867b" stroke-width="0.9"/>
<line x1="455.71" y1="552.40" x2="455.71" y2="556.10" stroke="#8c867b" stroke-width="0.9"/>
<line x1="463.88" y1="552.40" x2="463.88" y2="557.80" stroke="#5b554a" stroke-width="1.3"/>
<line x1="472.05" y1="552.40" x2="472.05" y2="556.10" stroke="#8c867b" stroke-width="0.9"/>
<line x1="480.22" y1="552.40" x2="480.22" y2="556.10" stroke="#8c867b" stroke-width="0.9"/>
<line x1="488.39" y1="552.40" x2="488.39" y2="556.10" stroke="#8c867b" stroke-width="0.9"/>
<line x1="496.56" y1="552.40" x2="496.56" y2="557.80" stroke="#5b554a" stroke-width="1.3"/>
<line x1="504.73" y1="552.40" x2="504.73" y2="556.10" stroke="#8c867b" stroke-width="0.9"/>
<line x1="512.90" y1="552.40" x2="512.90" y2="556.10" stroke="#8c867b" stroke-width="0.9"/>
<line x1="521.07" y1="552.40" x2="521.07" y2="556.10" stroke="#8c867b" stroke-width="0.9"/>
<line x1="529.24" y1="552.40" x2="529.24" y2="557.80" stroke="#5b554a" stroke-width="1.3"/>
<line x1="537.41" y1="552.40" x2="537.41" y2="556.10" stroke="#8c867b" stroke-width="0.9"/>
<line x1="545.58" y1="552.40" x2="545.58" y2="556.10" stroke="#8c867b" stroke-width="0.9"/>
<line x1="553.75" y1="552.40" x2="553.75" y2="556.10" stroke="#8c867b" stroke-width="0.9"/>
<line x1="561.92" y1="552.40" x2="561.92" y2="557.80" stroke="#5b554a" stroke-width="1.3"/>
<line x1="570.09" y1="552.40" x2="570.09" y2="556.10" stroke="#8c867b" stroke-width="0.9"/>
<line x1="578.26" y1="552.40" x2="578.26" y2="556.10" stroke="#8c867b" stroke-width="0.9"/>
<line x1="586.43" y1="552.40" x2="586.43" y2="556.10" stroke="#8c867b" stroke-width="0.9"/>
<line x1="594.60" y1="552.40" x2="594.60" y2="557.80" stroke="#5b554a" stroke-width="1.3"/>
<line x1="97.2" y1="540.40" x2="104.4" y2="540.40" stroke="#5b554a" stroke-width="1.1"/>
<text x="92.9" y="543.20" font-size="8" fill="#3a3a3a" text-anchor="end" transform="translate(0,540.40) scale(1,0.82) translate(0,-540.40)">3</text>
<line x1="97.2" y1="525.58" x2="104.4" y2="525.58" stroke="#5b554a" stroke-width="1.1"/>
<text x="92.9" y="528.38" font-size="8" fill="#3a3a3a" text-anchor="end" transform="translate(0,525.58) scale(1,0.82) translate(0,-525.58)">6</text>
<line x1="97.2" y1="510.76" x2="104.4" y2="510.76" stroke="#5b554a" stroke-width="1.1"/>
<text x="92.9" y="513.56" font-size="8" fill="#3a3a3a" text-anchor="end" transform="translate(0,510.76) scale(1,0.82) translate(0,-510.76)">9</text>
<line x1="97.2" y1="495.94" x2="104.4" y2="495.94" stroke="#5b554a" stroke-width="1.1"/>
<text x="92.9" y="498.74" font-size="8" fill="#3a3a3a" text-anchor="end" transform="translate(0,495.94) scale(1,0.82) translate(0,-495.94)">12</text>
<line x1="97.2" y1="481.12" x2="104.4" y2="481.12" stroke="#5b554a" stroke-width="1.1"/>
<text x="92.9" y="483.92" font-size="8" fill="#3a3a3a" text-anchor="end" transform="translate(0,481.12) scale(1,0.82) translate(0,-481.12)">15</text>
<text x="90.30" y="464.30" font-size="10.05" fill="#3a3a3a" text-anchor="start" >Daily mean of 10m Wind Speed (m/s)</text>
<line x1="137.08" y1="578.60" x2="137.08" y2="672.20" stroke="#c6c6c6" stroke-width="1" stroke-dasharray="1,1.5"/>
<line x1="169.76" y1="578.60" x2="169.76" y2="672.20" stroke="#c6c6c6" stroke-width="1" stroke-dasharray="1,1.5"/>
<line x1="202.44" y1="578.60" x2="202.44" y2="672.20" stroke="#c6c6c6" stroke-width="1" stroke-dasharray="1,1.5"/>
<line x1="235.12" y1="578.60" x2="235.12" y2="672.20" stroke="#c6c6c6" stroke-width="1" stroke-dasharray="1,1.5"/>
<line x1="267.80" y1="578.60" x2="267.80" y2="672.20" stroke="#c6c6c6" stroke-width="1" stroke-dasharray="1,1.5"/>
<line x1="300.48" y1="578.60" x2="300.48" y2="672.20" stroke="#c6c6c6" stroke-width="1" stroke-dasharray="1,1.5"/>
<line x1="333.16" y1="578.60" x2="333.16" y2="672.20" stroke="#c6c6c6" stroke-width="1" stroke-dasharray="1,1.5"/>
<line x1="365.84" y1="578.60" x2="365.84" y2="672.20" stroke="#c6c6c6" stroke-width="1" stroke-dasharray="1,1.5"/>
<line x1="398.52" y1="578.60" x2="398.52" y2="672.20" stroke="#c6c6c6" stroke-width="1" stroke-dasharray="1,1.5"/>
<line x1="431.20" y1="578.60" x2="431.20" y2="672.20" stroke="#c6c6c6" stroke-width="1" stroke-dasharray="1,1.5"/>
<line x1="463.88" y1="578.60" x2="463.88" y2="672.20" stroke="#c6c6c6" stroke-width="1" stroke-dasharray="1,1.5"/>
<line x1="496.56" y1="578.60" x2="496.56" y2="672.20" stroke="#c6c6c6" stroke-width="1" stroke-dasharray="1,1.5"/>
<line x1="529.24" y1="578.60" x2="529.24" y2="672.20" stroke="#c6c6c6" stroke-width="1" stroke-dasharray="1,1.5"/>
<line x1="561.92" y1="578.60" x2="561.92" y2="672.20" stroke="#c6c6c6" stroke-width="1" stroke-dasharray="1,1.5"/>
<line x1="104.4" y1="642.90" x2="594.60" y2="642.90" stroke="#e2e2e2" stroke-width="1.8"/>
<clipPath id="c6"><rect x="104.4" y="578.6" width="490.20" height="93.60000000000002"/></clipPath>
<g clip-path="url(#c6)">
<polygon points="119.94,626.63 153.42,626.75 186.10,627.85 218.78,627.36 251.46,626.88 284.14,626.75 316.82,626.75 349.50,626.63 382.18,626.39 414.86,626.39 447.54,626.15 480.22,625.90 512.90,625.66 545.58,625.66 578.86,625.66 578.86,639.26 545.58,639.50 512.90,639.99 480.22,640.47 447.54,640.71 414.86,641.44 382.18,641.69 349.50,641.93 316.82,642.17 284.14,642.17 251.46,642.17 218.78,642.17 186.10,642.17 153.42,642.17 119.94,642.17" fill="#c8daf8"/>
<polygon points="119.94,628.57 153.42,628.57 186.10,628.82 218.78,628.57 251.46,628.33 284.14,628.09 316.82,628.09 349.50,627.85 382.18,627.85 414.86,627.60 447.54,627.36 480.22,627.36 512.90,627.12 545.58,627.12 578.86,627.12 578.86,635.62 545.58,635.62 512.90,635.62 480.22,635.62 447.54,635.62 414.86,635.86 382.18,635.86 349.50,636.10 316.82,636.34 284.14,636.34 251.46,636.59 218.78,636.59 186.10,636.59 153.42,636.34 119.94,636.34" fill="#a4c4f5"/>
<polygon points="119.94,603.57 153.42,601.38 186.10,601.38 218.78,602.11 251.46,602.84 284.14,602.11 316.82,602.11 349.50,602.84 382.18,602.11 414.86,601.38 447.54,600.65 480.22,600.05 512.90,600.05 545.58,600.05 578.86,600.05 578.86,625.66 545.58,625.66 512.90,625.66 480.22,625.90 447.54,626.15 414.86,626.39 382.18,626.39 349.50,626.39 316.82,626.75 284.14,626.75 251.46,626.88 218.78,627.36 186.10,627.85 153.42,627.12 119.94,627.36" fill="#ffcaca"/>
<polygon points="119.94,609.39 153.42,608.42 186.10,608.67 218.78,608.42 251.46,608.18 284.14,608.18 316.82,608.18 349.50,608.18 382.18,608.18 414.86,608.18 447.54,607.94 480.22,607.69 512.90,607.45 545.58,607.21 578.86,607.21 578.86,621.41 545.58,621.41 512.90,621.41 480.22,621.41 447.54,621.41 414.86,621.41 382.18,621.41 349.50,621.41 316.82,622.14 284.14,622.14 251.46,622.50 218.78,622.75 186.10,622.99 153.42,622.75 119.94,622.99" fill="#ff9e9e"/>
</g>
<line x1="104.4" y1="667.18" x2="594.60" y2="667.18" stroke="#c6c6c6" stroke-width="1" stroke-dasharray="1,1.5" opacity="0.85"/>
<line x1="104.4" y1="655.04" x2="594.60" y2="655.04" stroke="#c6c6c6" stroke-width="1" stroke-dasharray="1,1.5" opacity="0.85"/>
<line x1="104.4" y1="630.76" x2="594.60" y2="630.76" stroke="#c6c6c6" stroke-width="1" stroke-dasharray="1,1.5" opacity="0.85"/>
<line x1="104.4" y1="618.62" x2="594.60" y2="618.62" stroke="#c6c6c6" stroke-width="1" stroke-dasharray="1,1.5" opacity="0.85"/>
<line x1="104.4" y1="606.48" x2="594.60" y2="606.48" stroke="#c6c6c6" stroke-width="1" stroke-dasharray="1,1.5" opacity="0.85"/>
<line x1="104.4" y1="594.34" x2="594.60" y2="594.34" stroke="#c6c6c6" stroke-width="1" stroke-dasharray="1,1.5" opacity="0.85"/>
<line x1="104.4" y1="582.20" x2="594.60" y2="582.20" stroke="#c6c6c6" stroke-width="1" stroke-dasharray="1,1.5" opacity="0.85"/>
<g clip-path="url(#c6)">
<polyline points="120.74,632.46 153.42,632.22 186.10,632.22 218.78,632.10 251.46,631.97 284.14,631.97 316.82,631.97 349.50,631.97 382.18,631.97 414.86,631.73 447.54,631.25 480.22,630.76 512.90,630.27 545.58,630.03 578.26,630.03" fill="none" stroke="#6b9ef0" stroke-width="1.8" stroke-linejoin="round"/>
<polyline points="120.74,615.95 153.42,615.95 186.10,616.43 218.78,616.19 251.46,616.19 284.14,615.95 316.82,615.95 349.50,615.71 382.18,615.71 414.86,615.71 447.54,615.46 480.22,615.22 512.90,614.98 545.58,614.98 578.26,614.98" fill="none" stroke="#ff2a2a" stroke-width="2" stroke-linejoin="round"/>
<polyline points="120.74,595.55 153.42,591.43 186.10,592.88 218.78,593.61 251.46,592.88 284.14,592.88 316.82,592.88 349.50,592.40 382.18,592.40 414.86,591.43 447.54,589.97 480.22,589.48 512.90,589.24 545.58,589.48 578.26,590.46" fill="none" stroke="#f25a5a" stroke-width="1.0" stroke-linejoin="round"/>
<polyline points="120.74,636.34 153.42,635.37 186.10,637.07 218.78,639.26 251.46,637.56 284.14,637.80 316.82,637.80 349.50,637.07 382.18,635.01 414.86,634.64 447.54,634.16 480.22,633.31 512.90,632.10 545.58,631.49 578.26,631.49" fill="none" stroke="#ee4a4a" stroke-width="1.0" stroke-linejoin="round"/>
<polyline points="120.74,650.91 153.42,651.40 186.10,652.85 218.78,652.37 251.46,651.88 284.14,651.40 316.82,650.67 349.50,649.21 382.18,648.48 414.86,647.76 447.54,647.03 480.22,646.54 512.90,646.06 545.58,645.81 578.26,645.69" fill="none" stroke="#86aef4" stroke-width="1.1" stroke-linejoin="round"/>
</g>
<line x1="112.57" y1="636.34" x2="112.57" y2="642.17" stroke="#444" stroke-width="1"/>
<rect x="110.07" y="637.80" width="5" height="2.91" fill="#6fa2ee" stroke="#333" stroke-width="1.25" rx="0.8"/>
<rect x="108.27" y="637.80" width="8.6" height="2.91" fill="#6fa2ee" stroke="#333" stroke-width="1.25" rx="0.8"/>
<line x1="108.27" y1="639.02" x2="116.87" y2="639.02" stroke="#3a66a8" stroke-width="1"/>
<line x1="128.91" y1="616.43" x2="128.91" y2="622.02" stroke="#444" stroke-width="1"/>
<rect x="126.41" y="617.89" width="5" height="3.16" fill="#fa0a0a" stroke="#333" stroke-width="1.25" rx="0.8"/>
<rect x="124.61" y="617.89" width="8.6" height="3.16" fill="#fa0a0a" stroke="#333" stroke-width="1.25" rx="0.8"/>
<line x1="124.61" y1="619.35" x2="133.21" y2="619.35" stroke="#a00000" stroke-width="1"/>
<line x1="145.25" y1="626.15" x2="145.25" y2="633.67" stroke="#444" stroke-width="1"/>
<rect x="142.75" y="627.60" width="5" height="4.37" fill="#6fa2ee" stroke="#333" stroke-width="1.25" rx="0.8"/>
<rect x="140.95" y="628.33" width="8.6" height="2.67" fill="#6fa2ee" stroke="#333" stroke-width="1.25" rx="0.8"/>
<line x1="140.95" y1="629.55" x2="149.55" y2="629.55" stroke="#3a66a8" stroke-width="1"/>
<line x1="161.59" y1="620.32" x2="161.59" y2="622.02" stroke="#444" stroke-width="1"/>
<rect x="159.09" y="620.32" width="5" height="1.70" fill="#fa0a0a" stroke="#333" stroke-width="1.25" rx="0.8"/>
<rect x="157.29" y="620.32" width="8.6" height="1.70" fill="#fa0a0a" stroke="#333" stroke-width="1.25" rx="0.8"/>
<line x1="157.29" y1="621.29" x2="165.89" y2="621.29" stroke="#a00000" stroke-width="1"/>
<line x1="177.93" y1="625.30" x2="177.93" y2="633.67" stroke="#444" stroke-width="1"/>
<rect x="175.43" y="627.12" width="5" height="4.37" fill="#6fa2ee" stroke="#333" stroke-width="1.25" rx="0.8"/>
<rect x="173.63" y="627.12" width="8.6" height="4.37" fill="#6fa2ee" stroke="#333" stroke-width="1.25" rx="0.8"/>
<line x1="173.63" y1="629.55" x2="182.23" y2="629.55" stroke="#3a66a8" stroke-width="1"/>
<line x1="194.27" y1="617.16" x2="194.27" y2="622.02" stroke="#444" stroke-width="1"/>
<rect x="191.77" y="618.62" width="5" height="2.79" fill="#fa0a0a" stroke="#333" stroke-width="1.25" rx="0.8"/>
<rect x="189.97" y="618.62" width="8.6" height="2.79" fill="#fa0a0a" stroke="#333" stroke-width="1.25" rx="0.8"/>
<line x1="189.97" y1="620.08" x2="198.57" y2="620.08" stroke="#a00000" stroke-width="1"/>
<line x1="210.61" y1="622.02" x2="210.61" y2="629.55" stroke="#444" stroke-width="1"/>
<rect x="208.11" y="623.72" width="5" height="4.13" fill="#6fa2ee" stroke="#333" stroke-width="1.25" rx="0.8"/>
<rect x="206.31" y="623.72" width="8.6" height="4.13" fill="#6fa2ee" stroke="#333" stroke-width="1.25" rx="0.8"/>
<line x1="206.31" y1="625.90" x2="214.91" y2="625.90" stroke="#3a66a8" stroke-width="1"/>
<line x1="226.95" y1="615.71" x2="226.95" y2="622.99" stroke="#444" stroke-width="1"/>
<rect x="224.45" y="617.16" width="5" height="4.25" fill="#fa0a0a" stroke="#333" stroke-width="1.25" rx="0.8"/>
<rect x="222.65" y="617.16" width="8.6" height="4.25" fill="#fa0a0a" stroke="#333" stroke-width="1.25" rx="0.8"/>
<line x1="222.65" y1="619.59" x2="231.25" y2="619.59" stroke="#a00000" stroke-width="1"/>
<line x1="243.29" y1="622.99" x2="243.29" y2="631.49" stroke="#444" stroke-width="1"/>
<rect x="240.79" y="624.33" width="5" height="5.71" fill="#6fa2ee" stroke="#333" stroke-width="1.25" rx="0.8"/>
<rect x="238.99" y="624.33" width="8.6" height="5.71" fill="#6fa2ee" stroke="#333" stroke-width="1.25" rx="0.8"/>
<line x1="238.99" y1="627.60" x2="247.59" y2="627.60" stroke="#3a66a8" stroke-width="1"/>
<line x1="259.63" y1="611.09" x2="259.63" y2="622.02" stroke="#444" stroke-width="1"/>
<rect x="257.13" y="612.79" width="5" height="8.74" fill="#fa0a0a" stroke="#333" stroke-width="1.25" rx="0.8"/>
<rect x="255.33" y="617.65" width="8.6" height="3.40" fill="#fa0a0a" stroke="#333" stroke-width="1.25" rx="0.8"/>
<line x1="255.33" y1="619.35" x2="263.93" y2="619.35" stroke="#a00000" stroke-width="1"/>
<line x1="275.97" y1="623.60" x2="275.97" y2="635.01" stroke="#444" stroke-width="1"/>
<rect x="273.47" y="624.93" width="5" height="9.71" fill="#6fa2ee" stroke="#333" stroke-width="1.25" rx="0.8"/>
<rect x="271.67" y="627.60" width="8.6" height="5.71" fill="#6fa2ee" stroke="#333" stroke-width="1.25" rx="0.8"/>
<line x1="271.67" y1="630.40" x2="280.27" y2="630.40" stroke="#3a66a8" stroke-width="1"/>
<line x1="292.31" y1="607.94" x2="292.31" y2="622.38" stroke="#444" stroke-width="1"/>
<rect x="289.81" y="612.43" width="5" height="8.01" fill="#fa0a0a" stroke="#333" stroke-width="1.25" rx="0.8"/>
<rect x="288.01" y="613.52" width="8.6" height="5.10" fill="#fa0a0a" stroke="#333" stroke-width="1.25" rx="0.8"/>
<line x1="288.01" y1="615.95" x2="296.61" y2="615.95" stroke="#a00000" stroke-width="1"/>
<line x1="308.65" y1="623.23" x2="308.65" y2="638.04" stroke="#444" stroke-width="1"/>
<rect x="306.15" y="628.09" width="5" height="9.47" fill="#6fa2ee" stroke="#333" stroke-width="1.25" rx="0.8"/>
<rect x="304.35" y="631.49" width="8.6" height="4.13" fill="#6fa2ee" stroke="#333" stroke-width="1.25" rx="0.8"/>
<line x1="304.35" y1="633.67" x2="312.95" y2="633.67" stroke="#3a66a8" stroke-width="1"/>
<line x1="324.99" y1="608.18" x2="324.99" y2="622.38" stroke="#444" stroke-width="1"/>
<rect x="322.49" y="611.34" width="5" height="10.56" fill="#fa0a0a" stroke="#333" stroke-width="1.25" rx="0.8"/>
<rect x="320.69" y="612.79" width="8.6" height="7.65" fill="#fa0a0a" stroke="#333" stroke-width="1.25" rx="0.8"/>
<line x1="320.69" y1="616.68" x2="329.29" y2="616.68" stroke="#a00000" stroke-width="1"/>
<line x1="341.33" y1="622.38" x2="341.33" y2="642.90" stroke="#444" stroke-width="1"/>
<rect x="338.83" y="629.30" width="5" height="8.50" fill="#6fa2ee" stroke="#333" stroke-width="1.25" rx="0.8"/>
<rect x="337.03" y="631.49" width="8.6" height="4.13" fill="#6fa2ee" stroke="#333" stroke-width="1.25" rx="0.8"/>
<line x1="337.03" y1="633.67" x2="345.63" y2="633.67" stroke="#3a66a8" stroke-width="1"/>
<line x1="357.67" y1="604.29" x2="357.67" y2="626.39" stroke="#444" stroke-width="1"/>
<rect x="355.17" y="610.36" width="5" height="11.78" fill="#fa0a0a" stroke="#333" stroke-width="1.25" rx="0.8"/>
<rect x="353.37" y="612.91" width="8.6" height="5.71" fill="#fa0a0a" stroke="#333" stroke-width="1.25" rx="0.8"/>
<line x1="353.37" y1="615.71" x2="361.97" y2="615.71" stroke="#a00000" stroke-width="1"/>
<line x1="374.01" y1="618.62" x2="374.01" y2="639.99" stroke="#444" stroke-width="1"/>
<rect x="371.51" y="626.39" width="5" height="12.14" fill="#6fa2ee" stroke="#333" stroke-width="1.25" rx="0.8"/>
<rect x="369.71" y="628.57" width="8.6" height="7.53" fill="#6fa2ee" stroke="#333" stroke-width="1.25" rx="0.8"/>
<line x1="369.71" y1="632.10" x2="378.31" y2="632.10" stroke="#3a66a8" stroke-width="1"/>
<line x1="390.35" y1="599.92" x2="390.35" y2="622.14" stroke="#444" stroke-width="1"/>
<rect x="387.85" y="606.48" width="5" height="14.93" fill="#fa0a0a" stroke="#333" stroke-width="1.25" rx="0.8"/>
<rect x="386.05" y="609.64" width="8.6" height="7.04" fill="#fa0a0a" stroke="#333" stroke-width="1.25" rx="0.8"/>
<line x1="386.05" y1="612.91" x2="394.65" y2="612.91" stroke="#a00000" stroke-width="1"/>
<line x1="406.69" y1="616.19" x2="406.69" y2="641.44" stroke="#444" stroke-width="1"/>
<rect x="404.19" y="624.69" width="5" height="12.38" fill="#6fa2ee" stroke="#333" stroke-width="1.25" rx="0.8"/>
<rect x="402.39" y="626.39" width="8.6" height="7.89" fill="#6fa2ee" stroke="#333" stroke-width="1.25" rx="0.8"/>
<line x1="402.39" y1="630.76" x2="410.99" y2="630.76" stroke="#3a66a8" stroke-width="1"/>
<line x1="423.03" y1="596.40" x2="423.03" y2="630.76" stroke="#444" stroke-width="1"/>
<rect x="420.53" y="602.11" width="5" height="15.05" fill="#fa0a0a" stroke="#333" stroke-width="1.25" rx="0.8"/>
<rect x="418.73" y="606.48" width="8.6" height="7.04" fill="#fa0a0a" stroke="#333" stroke-width="1.25" rx="0.8"/>
<line x1="418.73" y1="610.00" x2="427.33" y2="610.00" stroke="#a00000" stroke-width="1"/>
<line x1="439.37" y1="618.13" x2="439.37" y2="643.63" stroke="#444" stroke-width="1"/>
<rect x="436.87" y="624.33" width="5" height="10.68" fill="#6fa2ee" stroke="#333" stroke-width="1.25" rx="0.8"/>
<rect x="435.07" y="627.60" width="8.6" height="5.71" fill="#6fa2ee" stroke="#333" stroke-width="1.25" rx="0.8"/>
<line x1="435.07" y1="630.03" x2="443.67" y2="630.03" stroke="#3a66a8" stroke-width="1"/>
<line x1="455.71" y1="589.24" x2="455.71" y2="622.14" stroke="#444" stroke-width="1"/>
<rect x="453.21" y="596.04" width="5" height="20.40" fill="#fa0a0a" stroke="#333" stroke-width="1.25" rx="0.8"/>
<rect x="451.41" y="601.38" width="8.6" height="8.98" fill="#fa0a0a" stroke="#333" stroke-width="1.25" rx="0.8"/>
<line x1="451.41" y1="605.75" x2="460.01" y2="605.75" stroke="#a00000" stroke-width="1"/>
<line x1="472.05" y1="616.19" x2="472.05" y2="638.04" stroke="#444" stroke-width="1"/>
<rect x="469.55" y="623.60" width="5" height="12.02" fill="#6fa2ee" stroke="#333" stroke-width="1.25" rx="0.8"/>
<rect x="467.75" y="626.15" width="8.6" height="5.95" fill="#6fa2ee" stroke="#333" stroke-width="1.25" rx="0.8"/>
<line x1="467.75" y1="629.30" x2="476.35" y2="629.30" stroke="#3a66a8" stroke-width="1"/>
<line x1="488.39" y1="588.03" x2="488.39" y2="621.90" stroke="#444" stroke-width="1"/>
<rect x="485.89" y="595.31" width="5" height="21.12" fill="#fa0a0a" stroke="#333" stroke-width="1.25" rx="0.8"/>
<rect x="484.09" y="599.20" width="8.6" height="10.80" fill="#fa0a0a" stroke="#333" stroke-width="1.25" rx="0.8"/>
<line x1="484.09" y1="604.29" x2="492.69" y2="604.29" stroke="#a00000" stroke-width="1"/>
<line x1="504.73" y1="617.65" x2="504.73" y2="637.80" stroke="#444" stroke-width="1"/>
<rect x="502.23" y="622.38" width="5" height="13.23" fill="#6fa2ee" stroke="#333" stroke-width="1.25" rx="0.8"/>
<rect x="500.43" y="624.93" width="8.6" height="6.07" fill="#6fa2ee" stroke="#333" stroke-width="1.25" rx="0.8"/>
<line x1="500.43" y1="628.09" x2="509.03" y2="628.09" stroke="#3a66a8" stroke-width="1"/>
<line x1="521.07" y1="590.70" x2="521.07" y2="622.99" stroke="#444" stroke-width="1"/>
<rect x="518.57" y="596.40" width="5" height="20.27" fill="#fa0a0a" stroke="#333" stroke-width="1.25" rx="0.8"/>
<rect x="516.77" y="599.56" width="8.6" height="10.44" fill="#fa0a0a" stroke="#333" stroke-width="1.25" rx="0.8"/>
<line x1="516.77" y1="604.29" x2="525.37" y2="604.29" stroke="#a00000" stroke-width="1"/>
<line x1="537.41" y1="610.36" x2="537.41" y2="638.53" stroke="#444" stroke-width="1"/>
<rect x="534.91" y="619.35" width="5" height="14.33" fill="#6fa2ee" stroke="#333" stroke-width="1.25" rx="0.8"/>
<rect x="533.11" y="622.14" width="8.6" height="8.62" fill="#6fa2ee" stroke="#333" stroke-width="1.25" rx="0.8"/>
<line x1="533.11" y1="624.93" x2="541.71" y2="624.93" stroke="#3a66a8" stroke-width="1"/>
<line x1="553.75" y1="582.93" x2="553.75" y2="622.99" stroke="#444" stroke-width="1"/>
<rect x="551.25" y="593.37" width="5" height="24.28" fill="#fa0a0a" stroke="#333" stroke-width="1.25" rx="0.8"/>
<rect x="549.45" y="597.13" width="8.6" height="14.81" fill="#fa0a0a" stroke="#333" stroke-width="1.25" rx="0.8"/>
<line x1="549.45" y1="606.48" x2="558.05" y2="606.48" stroke="#a00000" stroke-width="1"/>
<line x1="570.09" y1="609.27" x2="570.09" y2="641.44" stroke="#444" stroke-width="1"/>
<rect x="567.59" y="619.59" width="5" height="15.66" fill="#6fa2ee" stroke="#333" stroke-width="1.25" rx="0.8"/>
<rect x="565.79" y="622.38" width="8.6" height="8.01" fill="#6fa2ee" stroke="#333" stroke-width="1.25" rx="0.8"/>
<line x1="565.79" y1="625.30" x2="574.39" y2="625.30" stroke="#3a66a8" stroke-width="1"/>
<line x1="586.43" y1="581.47" x2="586.43" y2="626.75" stroke="#444" stroke-width="1"/>
<rect x="583.93" y="592.15" width="5" height="26.47" fill="#fa0a0a" stroke="#333" stroke-width="1.25" rx="0.8"/>
<rect x="582.13" y="599.20" width="8.6" height="14.69" fill="#fa0a0a" stroke="#333" stroke-width="1.25" rx="0.8"/>
<line x1="582.13" y1="607.21" x2="590.73" y2="607.21" stroke="#a00000" stroke-width="1"/>
<line x1="104.4" y1="578.60" x2="594.60" y2="578.60" stroke="#c4b8a4" stroke-width="1.2" style="mix-blend-mode:multiply"/>
<line x1="594.60" y1="578.60" x2="594.60" y2="672.20" stroke="#c2b7a2" stroke-width="1.1"/>
<line x1="104.4" y1="578.60" x2="104.4" y2="672.20" stroke="#5b554a" stroke-width="1.3" stroke-linecap="round"/>
<line x1="103.80000000000001" y1="672.20" x2="595.20" y2="672.20" stroke="#5b554a" stroke-width="1.6"/>
<line x1="112.57" y1="672.20" x2="112.57" y2="675.90" stroke="#8c867b" stroke-width="0.9"/>
<line x1="120.74" y1="672.20" x2="120.74" y2="675.90" stroke="#8c867b" stroke-width="0.9"/>
<line x1="128.91" y1="672.20" x2="128.91" y2="675.90" stroke="#8c867b" stroke-width="0.9"/>
<line x1="137.08" y1="672.20" x2="137.08" y2="677.60" stroke="#5b554a" stroke-width="1.3"/>
<line x1="145.25" y1="672.20" x2="145.25" y2="675.90" stroke="#8c867b" stroke-width="0.9"/>
<line x1="153.42" y1="672.20" x2="153.42" y2="675.90" stroke="#8c867b" stroke-width="0.9"/>
<line x1="161.59" y1="672.20" x2="161.59" y2="675.90" stroke="#8c867b" stroke-width="0.9"/>
<line x1="169.76" y1="672.20" x2="169.76" y2="677.60" stroke="#5b554a" stroke-width="1.3"/>
<line x1="177.93" y1="672.20" x2="177.93" y2="675.90" stroke="#8c867b" stroke-width="0.9"/>
<line x1="186.10" y1="672.20" x2="186.10" y2="675.90" stroke="#8c867b" stroke-width="0.9"/>
<line x1="194.27" y1="672.20" x2="194.27" y2="675.90" stroke="#8c867b" stroke-width="0.9"/>
<line x1="202.44" y1="672.20" x2="202.44" y2="677.60" stroke="#5b554a" stroke-width="1.3"/>
<line x1="210.61" y1="672.20" x2="210.61" y2="675.90" stroke="#8c867b" stroke-width="0.9"/>
<line x1="218.78" y1="672.20" x2="218.78" y2="675.90" stroke="#8c867b" stroke-width="0.9"/>
<line x1="226.95" y1="672.20" x2="226.95" y2="675.90" stroke="#8c867b" stroke-width="0.9"/>
<line x1="235.12" y1="672.20" x2="235.12" y2="677.60" stroke="#5b554a" stroke-width="1.3"/>
<line x1="243.29" y1="672.20" x2="243.29" y2="675.90" stroke="#8c867b" stroke-width="0.9"/>
<line x1="251.46" y1="672.20" x2="251.46" y2="675.90" stroke="#8c867b" stroke-width="0.9"/>
<line x1="259.63" y1="672.20" x2="259.63" y2="675.90" stroke="#8c867b" stroke-width="0.9"/>
<line x1="267.80" y1="672.20" x2="267.80" y2="677.60" stroke="#5b554a" stroke-width="1.3"/>
<line x1="275.97" y1="672.20" x2="275.97" y2="675.90" stroke="#8c867b" stroke-width="0.9"/>
<line x1="284.14" y1="672.20" x2="284.14" y2="675.90" stroke="#8c867b" stroke-width="0.9"/>
<line x1="292.31" y1="672.20" x2="292.31" y2="675.90" stroke="#8c867b" stroke-width="0.9"/>
<line x1="300.48" y1="672.20" x2="300.48" y2="677.60" stroke="#5b554a" stroke-width="1.3"/>
<line x1="308.65" y1="672.20" x2="308.65" y2="675.90" stroke="#8c867b" stroke-width="0.9"/>
<line x1="316.82" y1="672.20" x2="316.82" y2="675.90" stroke="#8c867b" stroke-width="0.9"/>
<line x1="324.99" y1="672.20" x2="324.99" y2="675.90" stroke="#8c867b" stroke-width="0.9"/>
<line x1="333.16" y1="672.20" x2="333.16" y2="677.60" stroke="#5b554a" stroke-width="1.3"/>
<line x1="341.33" y1="672.20" x2="341.33" y2="675.90" stroke="#8c867b" stroke-width="0.9"/>
<line x1="349.50" y1="672.20" x2="349.50" y2="675.90" stroke="#8c867b" stroke-width="0.9"/>
<line x1="357.67" y1="672.20" x2="357.67" y2="675.90" stroke="#8c867b" stroke-width="0.9"/>
<line x1="365.84" y1="672.20" x2="365.84" y2="677.60" stroke="#5b554a" stroke-width="1.3"/>
<line x1="374.01" y1="672.20" x2="374.01" y2="675.90" stroke="#8c867b" stroke-width="0.9"/>
<line x1="382.18" y1="672.20" x2="382.18" y2="675.90" stroke="#8c867b" stroke-width="0.9"/>
<line x1="390.35" y1="672.20" x2="390.35" y2="675.90" stroke="#8c867b" stroke-width="0.9"/>
<line x1="398.52" y1="672.20" x2="398.52" y2="677.60" stroke="#5b554a" stroke-width="1.3"/>
<line x1="406.69" y1="672.20" x2="406.69" y2="675.90" stroke="#8c867b" stroke-width="0.9"/>
<line x1="414.86" y1="672.20" x2="414.86" y2="675.90" stroke="#8c867b" stroke-width="0.9"/>
<line x1="423.03" y1="672.20" x2="423.03" y2="675.90" stroke="#8c867b" stroke-width="0.9"/>
<line x1="431.20" y1="672.20" x2="431.20" y2="677.60" stroke="#5b554a" stroke-width="1.3"/>
<line x1="439.37" y1="672.20" x2="439.37" y2="675.90" stroke="#8c867b" stroke-width="0.9"/>
<line x1="447.54" y1="672.20" x2="447.54" y2="675.90" stroke="#8c867b" stroke-width="0.9"/>
<line x1="455.71" y1="672.20" x2="455.71" y2="675.90" stroke="#8c867b" stroke-width="0.9"/>
<line x1="463.88" y1="672.20" x2="463.88" y2="677.60" stroke="#5b554a" stroke-width="1.3"/>
<line x1="472.05" y1="672.20" x2="472.05" y2="675.90" stroke="#8c867b" stroke-width="0.9"/>
<line x1="480.22" y1="672.20" x2="480.22" y2="675.90" stroke="#8c867b" stroke-width="0.9"/>
<line x1="488.39" y1="672.20" x2="488.39" y2="675.90" stroke="#8c867b" stroke-width="0.9"/>
<line x1="496.56" y1="672.20" x2="496.56" y2="677.60" stroke="#5b554a" stroke-width="1.3"/>
<line x1="504.73" y1="672.20" x2="504.73" y2="675.90" stroke="#8c867b" stroke-width="0.9"/>
<line x1="512.90" y1="672.20" x2="512.90" y2="675.90" stroke="#8c867b" stroke-width="0.9"/>
<line x1="521.07" y1="672.20" x2="521.07" y2="675.90" stroke="#8c867b" stroke-width="0.9"/>
<line x1="529.24" y1="672.20" x2="529.24" y2="677.60" stroke="#5b554a" stroke-width="1.3"/>
<line x1="537.41" y1="672.20" x2="537.41" y2="675.90" stroke="#8c867b" stroke-width="0.9"/>
<line x1="545.58" y1="672.20" x2="545.58" y2="675.90" stroke="#8c867b" stroke-width="0.9"/>
<line x1="553.75" y1="672.20" x2="553.75" y2="675.90" stroke="#8c867b" stroke-width="0.9"/>
<line x1="561.92" y1="672.20" x2="561.92" y2="677.60" stroke="#5b554a" stroke-width="1.3"/>
<line x1="570.09" y1="672.20" x2="570.09" y2="675.90" stroke="#8c867b" stroke-width="0.9"/>
<line x1="578.26" y1="672.20" x2="578.26" y2="675.90" stroke="#8c867b" stroke-width="0.9"/>
<line x1="586.43" y1="672.20" x2="586.43" y2="675.90" stroke="#8c867b" stroke-width="0.9"/>
<line x1="594.60" y1="672.20" x2="594.60" y2="677.60" stroke="#5b554a" stroke-width="1.3"/>
<line x1="97.2" y1="667.18" x2="104.4" y2="667.18" stroke="#5b554a" stroke-width="1.1"/>
<text x="92.9" y="669.98" font-size="8" fill="#3a3a3a" text-anchor="end" transform="translate(0,667.18) scale(1,0.82) translate(0,-667.18)">-10</text>
<line x1="97.2" y1="655.04" x2="104.4" y2="655.04" stroke="#5b554a" stroke-width="1.1"/>
<text x="92.9" y="657.84" font-size="8" fill="#3a3a3a" text-anchor="end" transform="translate(0,655.04) scale(1,0.82) translate(0,-655.04)">-5</text>
<line x1="97.2" y1="642.90" x2="104.4" y2="642.90" stroke="#5b554a" stroke-width="1.1"/>
<text x="92.9" y="645.70" font-size="8" fill="#3a3a3a" text-anchor="end" transform="translate(0,642.90) scale(1,0.82) translate(0,-642.90)">0</text>
<line x1="97.2" y1="630.76" x2="104.4" y2="630.76" stroke="#5b554a" stroke-width="1.1"/>
<text x="92.9" y="633.56" font-size="8" fill="#3a3a3a" text-anchor="end" transform="translate(0,630.76) scale(1,0.82) translate(0,-630.76)">5</text>
<line x1="97.2" y1="618.62" x2="104.4" y2="618.62" stroke="#5b554a" stroke-width="1.1"/>
<text x="92.9" y="621.42" font-size="8" fill="#3a3a3a" text-anchor="end" transform="translate(0,618.62) scale(1,0.82) translate(0,-618.62)">10</text>
<line x1="97.2" y1="606.48" x2="104.4" y2="606.48" stroke="#5b554a" stroke-width="1.1"/>
<text x="92.9" y="609.28" font-size="8" fill="#3a3a3a" text-anchor="end" transform="translate(0,606.48) scale(1,0.82) translate(0,-606.48)">15</text>
<line x1="97.2" y1="594.34" x2="104.4" y2="594.34" stroke="#5b554a" stroke-width="1.1"/>
<text x="92.9" y="597.14" font-size="8" fill="#3a3a3a" text-anchor="end" transform="translate(0,594.34) scale(1,0.82) translate(0,-594.34)">20</text>
<line x1="97.2" y1="582.20" x2="104.4" y2="582.20" stroke="#5b554a" stroke-width="1.1"/>
<text x="92.9" y="585.00" font-size="8" fill="#3a3a3a" text-anchor="end" transform="translate(0,582.20) scale(1,0.82) translate(0,-582.20)">25</text>
<text x="90.30" y="573.80" font-size="10.05" fill="#3a3a3a" text-anchor="start" >2m min/max Temperature (°C) reduced to 0 m (station height) from 1 m (ENS)</text>
<text x="120.74" y="691.8" font-size="8" fill="#3a3a3a" text-anchor="middle" transform="translate(0,691.8) scale(1,0.85) translate(0,-691.8)">Fri27</text>
<text x="153.42" y="691.8" font-size="8" fill="#3a3a3a" text-anchor="middle" transform="translate(0,691.8) scale(1,0.85) translate(0,-691.8)">Sat28</text>
<text x="186.10" y="691.8" font-size="8" fill="#ff1010" text-anchor="middle" transform="translate(0,691.8) scale(1,0.85) translate(0,-691.8)">Sun29</text>
<text x="218.78" y="691.8" font-size="8" fill="#3a3a3a" text-anchor="middle" transform="translate(0,691.8) scale(1,0.85) translate(0,-691.8)">Mon30</text>
<text x="251.46" y="691.8" font-size="8" fill="#3a3a3a" text-anchor="middle" transform="translate(0,691.8) scale(1,0.85) translate(0,-691.8)">Tue31</text>
<text x="284.14" y="691.8" font-size="8" fill="#3a3a3a" text-anchor="middle" transform="translate(0,691.8) scale(1,0.85) translate(0,-691.8)">Wed 1</text>
<text x="316.82" y="691.8" font-size="8" fill="#3a3a3a" text-anchor="middle" transform="translate(0,691.8) scale(1,0.85) translate(0,-691.8)">Thu 2</text>
<text x="349.50" y="691.8" font-size="8" fill="#3a3a3a" text-anchor="middle" transform="translate(0,691.8) scale(1,0.85) translate(0,-691.8)">Fri 3</text>
<text x="382.18" y="691.8" font-size="8" fill="#3a3a3a" text-anchor="middle" transform="translate(0,691.8) scale(1,0.85) translate(0,-691.8)">Sat 4</text>
<text x="414.86" y="691.8" font-size="8" fill="#ff1010" text-anchor="middle" transform="translate(0,691.8) scale(1,0.85) translate(0,-691.8)">Sun 5</text>
<text x="447.54" y="691.8" font-size="8" fill="#3a3a3a" text-anchor="middle" transform="translate(0,691.8) scale(1,0.85) translate(0,-691.8)">Mon 6</text>
<text x="480.22" y="691.8" font-size="8" fill="#3a3a3a" text-anchor="middle" transform="translate(0,691.8) scale(1,0.85) translate(0,-691.8)">Tue 7</text>
<text x="512.90" y="691.8" font-size="8" fill="#3a3a3a" text-anchor="middle" transform="translate(0,691.8) scale(1,0.85) translate(0,-691.8)">Wed 8</text>
<text x="545.58" y="691.8" font-size="8" fill="#3a3a3a" text-anchor="middle" transform="translate(0,691.8) scale(1,0.85) translate(0,-691.8)">Thu 9</text>
<text x="578.26" y="691.8" font-size="8" fill="#3a3a3a" text-anchor="middle" transform="translate(0,691.8) scale(1,0.85) translate(0,-691.8)">Fri10</text>
<text x="120.74" y="705.7" font-size="8" fill="#3a3a3a" text-anchor="middle" transform="translate(0,705.7) scale(1,0.85) translate(0,-705.7)">Mar</text>
<text x="120.74" y="719.6" font-size="8" fill="#3a3a3a" text-anchor="middle" transform="translate(0,719.6) scale(1,0.85) translate(0,-719.6)">2026</text>
<text x="284.14" y="705.7" font-size="8" fill="#3a3a3a" text-anchor="middle" transform="translate(0,705.7) scale(1,0.85) translate(0,-705.7)">Apr</text>
<text x="90.40" y="47.90" font-size="12.1" fill="#3a3a3a" text-anchor="start" >ENS Meteogram</text>
<text x="90.40" y="64.80" font-size="12.1" fill="#3a3a3a" text-anchor="start" >User city:Weerstation Schouwen-Duiveland 51.56°N 3.76°E (ENS land point) 0 m</text>
<text x="90.40" y="82.30" font-size="12.1" fill="#3a3a3a" text-anchor="start" >Forecast based on ENS distribution Friday 27 March 2026 00 UTC</text>
<text x="170.8" y="731.0" font-size="8.1" fill="#444" text-anchor="start" transform="translate(0,731.0) scale(1,0.85) translate(0,-731.0)">M-Climate</text>
<line x1="173.5" y1="738.2" x2="190" y2="738.2" stroke="#b0b0b0" stroke-width="0.9" stroke-dasharray="1.2,2.6"/>
<line x1="173.5" y1="781.3" x2="190" y2="781.3" stroke="#b0b0b0" stroke-width="0.9" stroke-dasharray="1.2,2.6"/>
<rect x="173.5" y="745" width="16" height="23" fill="#e6e6e6"/>
<rect x="173.5" y="752" width="16" height="15" fill="#d6d6d6"/>
<rect x="173.5" y="745" width="16" height="8" fill="#e6e6e6"/>
<rect x="173.5" y="767" width="15.8" height="7.8" fill="#e6e6e6"/>
<rect x="173.5" y="752" width="16" height="15" fill="#d4d4d4"/>
<line x1="173.5" y1="760" x2="189.5" y2="760" stroke="#aaa" stroke-width="1.2"/>
<text x="194.5" y="738.5" font-size="8.3" fill="#444" text-anchor="start" transform="translate(0,738.5) scale(1,0.85) translate(0,-738.5)">99%</text>
<text x="194.5" y="746.3" font-size="8.3" fill="#444" text-anchor="start" transform="translate(0,746.3) scale(1,0.85) translate(0,-746.3)">90%</text>
<text x="194.5" y="753.2" font-size="8.3" fill="#444" text-anchor="start" transform="translate(0,753.2) scale(1,0.85) translate(0,-753.2)">75%</text>
<text x="194.5" y="760.3" font-size="8.3" fill="#444" text-anchor="start" transform="translate(0,760.3) scale(1,0.85) translate(0,-760.3)">median</text>
<text x="194.5" y="768.2" font-size="8.3" fill="#444" text-anchor="start" transform="translate(0,768.2) scale(1,0.85) translate(0,-768.2)">25%</text>
<text x="194.5" y="775.5" font-size="8.3" fill="#444" text-anchor="start" transform="translate(0,775.5) scale(1,0.85) translate(0,-775.5)">10%</text>
<text x="194.5" y="782.3" font-size="8.3" fill="#444" text-anchor="start" transform="translate(0,782.3) scale(1,0.85) translate(0,-782.3)">1%</text>
<line x1="258" y1="738" x2="258" y2="782" stroke="#999" stroke-width="0.8"/>
<rect x="256.1" y="745.4" width="4.3" height="29.2" fill="#c2c2c2" stroke="#666" stroke-width="0.8" rx="0.5"/>
<rect x="254.3" y="752.9" width="7.8" height="14.6" fill="#c2c2c2" stroke="#666" stroke-width="0.8" rx="0.5"/>
<line x1="254" y1="760" x2="262" y2="760" stroke="#555" stroke-width="1"/>
<text x="268.2" y="738.3" font-size="6" fill="#444" text-anchor="start" transform="translate(0,738.3) scale(1,0.85) translate(0,-738.3)">max</text>
<text x="268.2" y="746.2" font-size="6" fill="#444" text-anchor="start" transform="translate(0,746.2) scale(1,0.85) translate(0,-746.2)">90%</text>
<text x="272.8" y="752.8" font-size="6" fill="#444" text-anchor="start" transform="translate(0,752.8) scale(1,0.85) translate(0,-752.8)">75%</text>
<text x="272.8" y="760.4" font-size="6" fill="#444" text-anchor="start" transform="translate(0,760.4) scale(1,0.85) translate(0,-760.4)">median</text>
<text x="272.8" y="768.3" font-size="6" fill="#444" text-anchor="start" transform="translate(0,768.3) scale(1,0.85) translate(0,-768.3)">25%</text>
<text x="268.2" y="774.9" font-size="6" fill="#444" text-anchor="start" transform="translate(0,774.9) scale(1,0.85) translate(0,-774.9)">10%</text>
<text x="268.2" y="782.0" font-size="6" fill="#444" text-anchor="start" transform="translate(0,782.0) scale(1,0.85) translate(0,-782.0)">min</text>
<text x="321.3" y="733.8" font-size="10.1" fill="#3a3a3a">M-Climate: this stands for Model Climate. It is a</text>
<text x="321.3" y="748.6" font-size="10.1" fill="#3a3a3a">function of lead time, date (+/-15days), and model</text>
<text x="321.3" y="762.5" font-size="10.1" fill="#3a3a3a">version. It is derived by rerunning a 11 member</text>
<text x="321.3" y="776.3" font-size="10.1" fill="#3a3a3a">ensemble over the last 20 years twice a week (1980</text>
<text x="321.3" y="790.5" font-size="10.1" fill="#3a3a3a">realisations). M-Climate is always from the same</text>
<text x="321.3" y="804.3" font-size="10.1" fill="#3a3a3a">model version as the displayed ENS data.</text>
<text x="27.2" y="884.1" font-size="11.56" fill="#474747">© 2026 European Centre for Medium-Range Weather Forecasts</text>
<text x="27.2" y="895.9" font-size="11.56" fill="#474747">(ECMWF)</text>
<text x="27.2" y="907.8" font-size="11.56" fill="#474747">Source: www.ecmwf.int</text>
<text x="27.2" y="919.7" font-size="11.56" fill="#474747">Licence: CC BY 4.0 and ECMWF Terms of</text>
<text x="27.2" y="931.6" font-size="11.56" fill="#474747">Use (https://apps.ecmwf.int/datasets/licences/general/)</text>
<text x="27.2" y="943.4" font-size="11.56" fill="#474747">Created at 2026-03-27T07:25:05.040Z</text>
</svg>
<svg width="700" height="966" viewBox="0 0 700 966" style="pointer-events:none">

<text x="537.6" y="922.9" font-size="36.4" font-weight="bold" fill="#0f69a7" textLength="136.2" lengthAdjust="spacingAndGlyphs" style="font-family:'Liberation Sans',sans-serif">ECMWF</text>
<g>
<circle cx="505.6" cy="909.3" r="15.8" fill="#0f69a7"/>
<circle cx="518.4" cy="909.3" r="15.8" fill="#0f69a7"/>
<circle cx="506" cy="909.3" r="6.9" fill="#fff"/>
<circle cx="518.4" cy="909.3" r="6.9" fill="#fff"/>
<rect x="518.4" y="906.2" width="17" height="6.1" fill="#fff"/>
<rect x="488" y="905.6" width="18" height="7.3" fill="#fff"/>
<rect x="490.1" y="907.6" width="12.9" height="3.1" fill="#0f69a7"/>
</g>

</svg>
</body></html>
